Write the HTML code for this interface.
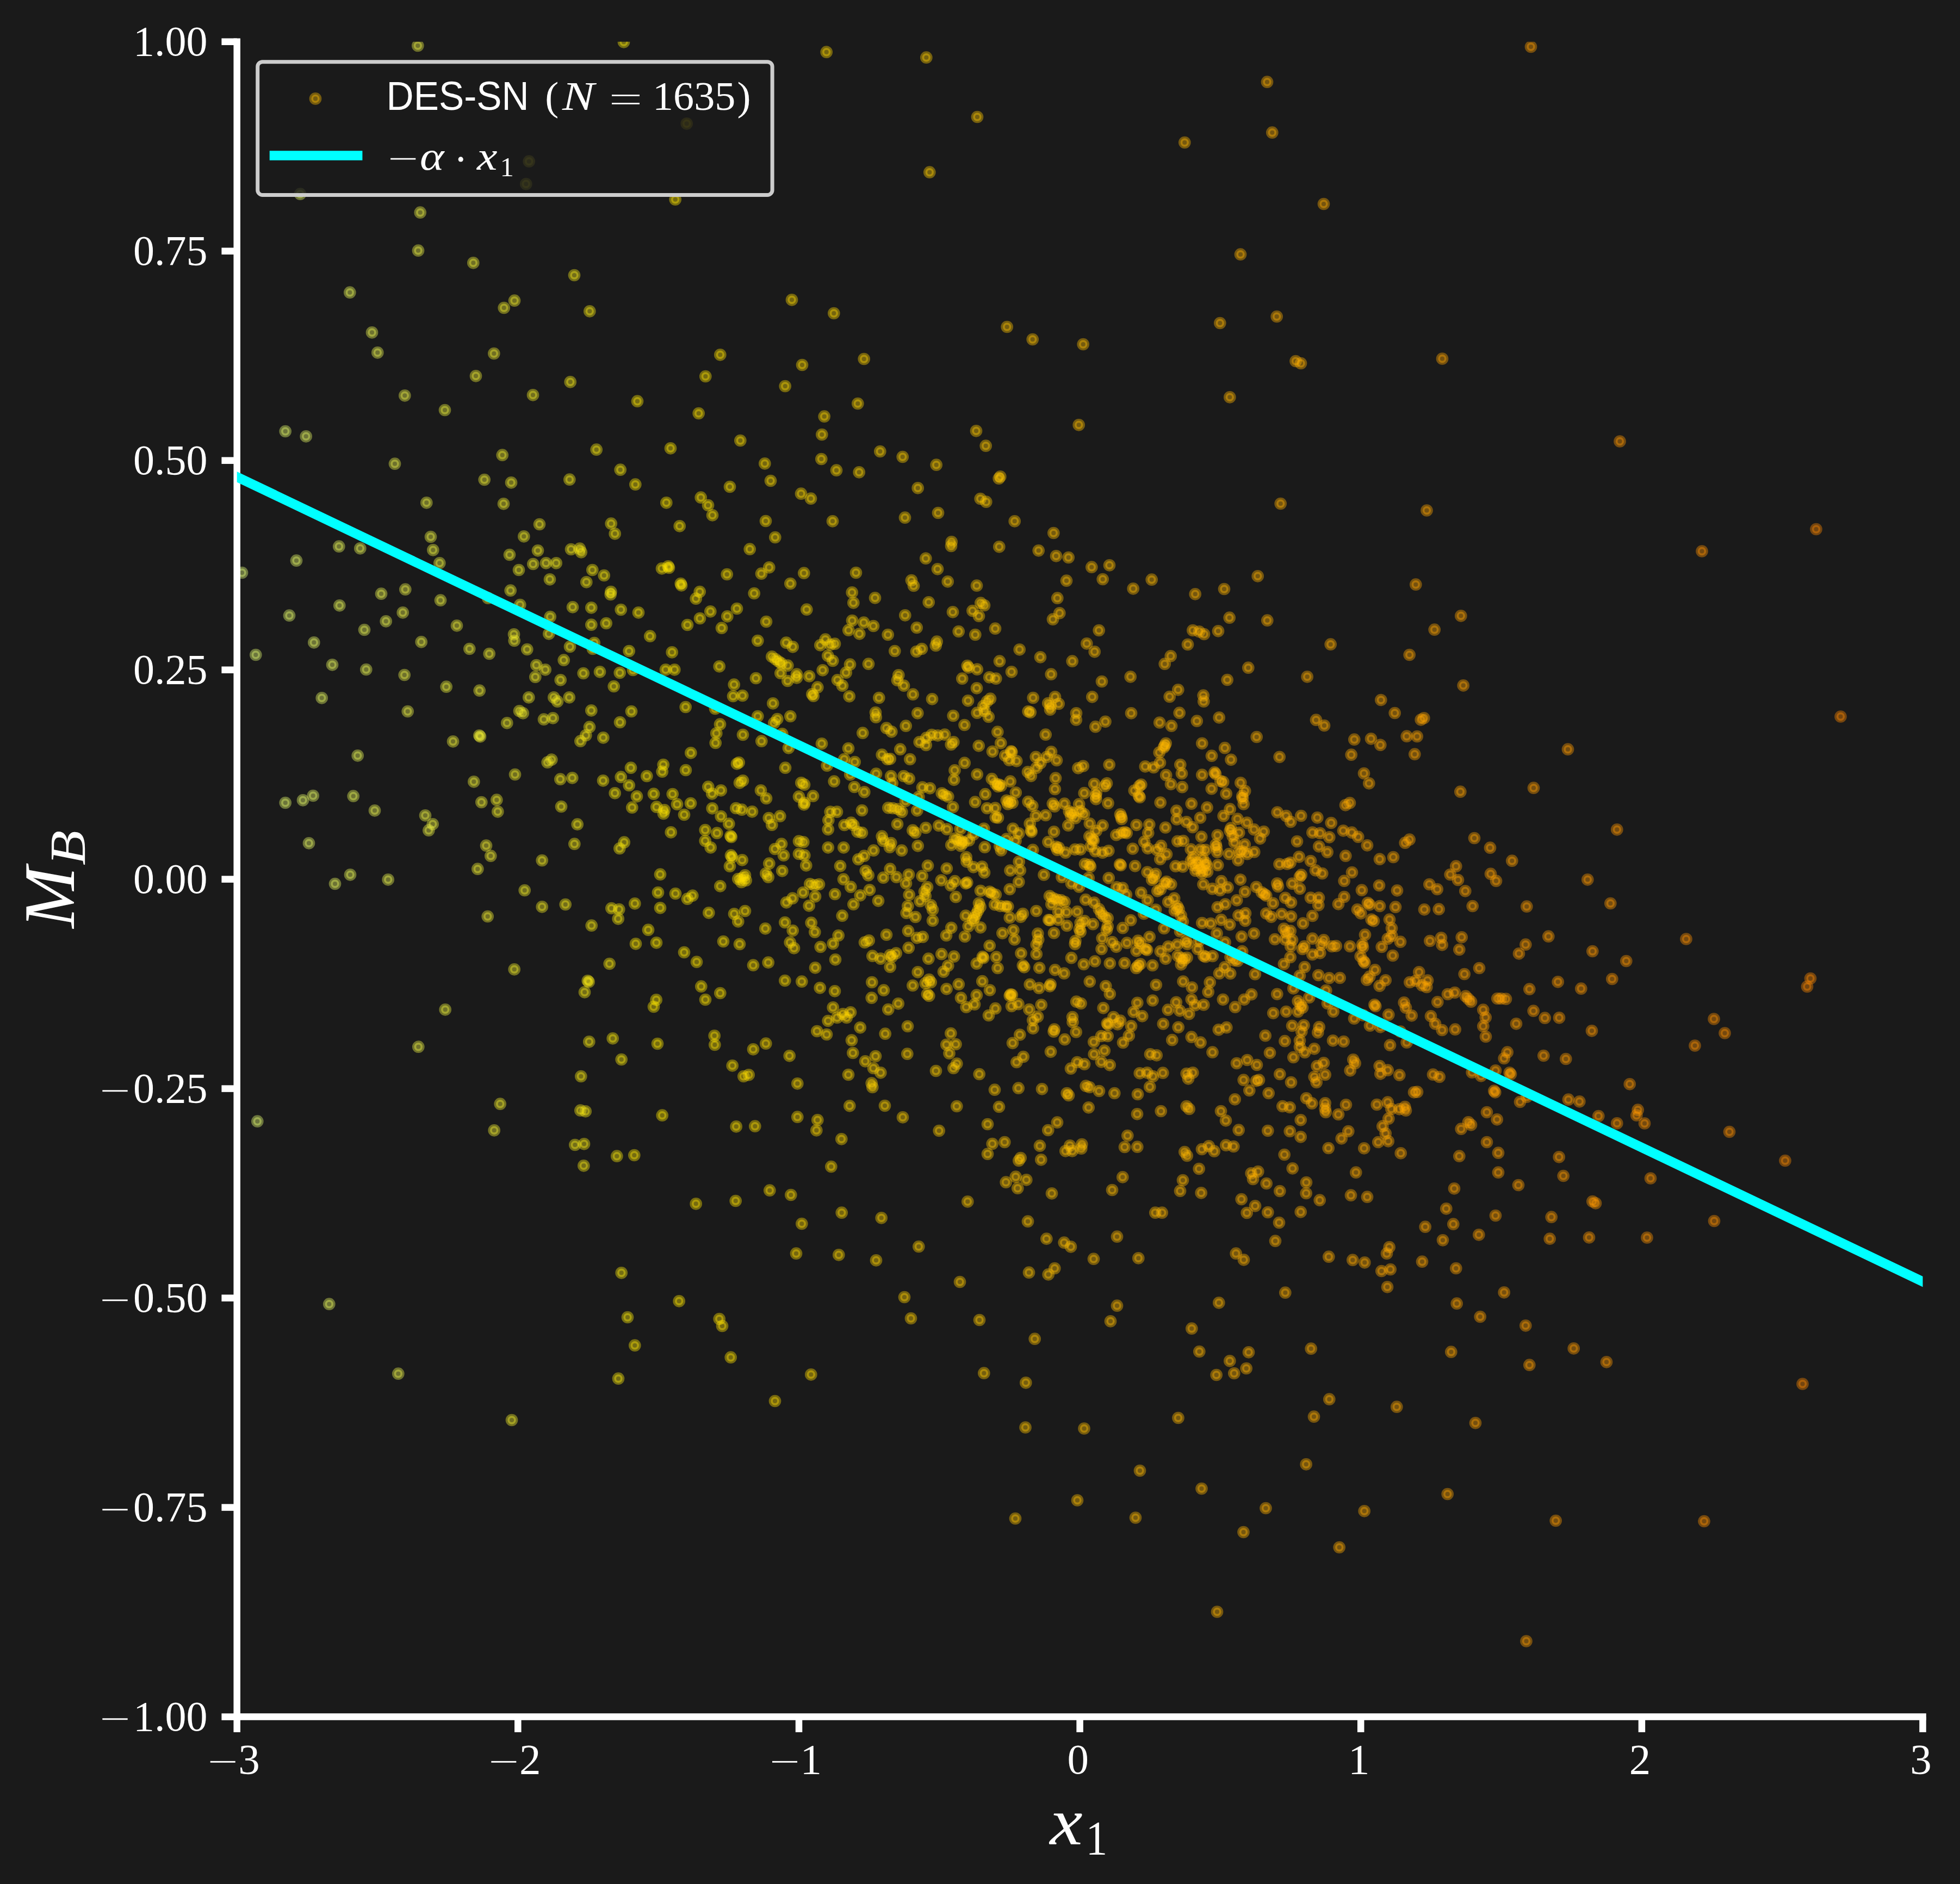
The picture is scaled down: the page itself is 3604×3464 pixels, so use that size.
<!DOCTYPE html>
<html><head><meta charset="utf-8"><title>DES-SN x1 vs MB</title>
<style>
html,body{margin:0;padding:0;background:#1a1a1a;}
body{width:3604px;height:3464px;overflow:hidden;}
svg{display:block;}
text{fill:#fff;font-family:"Liberation Serif",serif;}
.sans{font-family:"Liberation Sans",sans-serif;}
.it{font-style:italic;}
.p circle{fill:currentColor;stroke:currentColor;fill-opacity:.4;stroke-opacity:.4;stroke-width:7.3;}
</style></head><body>
<svg width="3604" height="3464" viewBox="0 0 3604 3464">
<rect x="0" y="0" width="3604" height="3464" fill="#1a1a1a"/>
<defs><clipPath id="ax"><rect x="435.7" y="76.7" width="3099.8" height="3079.9"/></clipPath></defs>
<g class="p" clip-path="url(#ax)">
<g style="color:#e4ff7a"><circle cx="445" cy="1053" r="7.7"/></g>
<g style="color:#e5fe74"><circle cx="470.3" cy="1204" r="7.7"/><circle cx="473.3" cy="2061.7" r="7.7"/></g>
<g style="color:#e7fc6b"><circle cx="524.7" cy="793" r="7.7"/><circle cx="532" cy="1131.7" r="7.7"/><circle cx="524.7" cy="1476" r="7.7"/></g>
<g style="color:#e8fc68"><circle cx="552" cy="356.7" r="7.7"/><circle cx="545" cy="1030.7" r="7.7"/><circle cx="557" cy="1471.3" r="7.7"/></g>
<g style="color:#e9fb65"><circle cx="562.7" cy="802.3" r="7.7"/><circle cx="577.3" cy="1181.3" r="7.7"/><circle cx="575.7" cy="1463" r="7.7"/><circle cx="568" cy="1550.3" r="7.7"/></g>
<g style="color:#e9fa62"><circle cx="591.7" cy="1283.3" r="7.7"/></g>
<g style="color:#eafa5e"><circle cx="611" cy="1222.3" r="7.7"/><circle cx="616" cy="1625" r="7.7"/><circle cx="605.3" cy="2397.7" r="7.7"/></g>
<g style="color:#ebf95b"><circle cx="623.3" cy="1004.7" r="7.7"/><circle cx="624.3" cy="1113.3" r="7.7"/></g>
<g style="color:#ebf958"><circle cx="643.3" cy="537.7" r="7.7"/><circle cx="657.7" cy="1389.3" r="7.7"/><circle cx="649.7" cy="1463.7" r="7.7"/><circle cx="644" cy="1608.3" r="7.7"/></g>
<g style="color:#ecf855"><circle cx="662.3" cy="1008.3" r="7.7"/><circle cx="670" cy="1158" r="7.7"/><circle cx="673.3" cy="1231" r="7.7"/></g>
<g style="color:#edf852"><circle cx="684" cy="611.3" r="7.7"/><circle cx="694.3" cy="648.3" r="7.7"/><circle cx="689" cy="1490.3" r="7.7"/></g>
<g style="color:#edf74f"><circle cx="701" cy="1091.7" r="7.7"/><circle cx="709.7" cy="1142.3" r="7.7"/><circle cx="713.7" cy="1617.3" r="7.7"/></g>
<g style="color:#eef64c"><circle cx="726" cy="852.7" r="7.7"/><circle cx="732.3" cy="2525.7" r="7.7"/></g>
<g style="color:#eff649"><circle cx="744.3" cy="727.3" r="7.7"/><circle cx="745.3" cy="1083.7" r="7.7"/><circle cx="740.7" cy="1126.3" r="7.7"/><circle cx="743.7" cy="1241" r="7.7"/><circle cx="749.7" cy="1308" r="7.7"/></g>
<g style="color:#eff546"><circle cx="768.3" cy="84" r="7.7"/><circle cx="772.7" cy="390.7" r="7.7"/><circle cx="769" cy="460.7" r="7.7"/><circle cx="774.7" cy="1180.3" r="7.7"/><circle cx="769.3" cy="1924.7" r="7.7"/></g>
<g style="color:#f0f543"><circle cx="784.3" cy="924.3" r="7.7"/><circle cx="792" cy="987" r="7.7"/><circle cx="782" cy="1499.3" r="7.7"/><circle cx="788.3" cy="1526.7" r="7.7"/></g>
<g style="color:#f1f440"><circle cx="796.3" cy="1011.3" r="7.7"/><circle cx="808.3" cy="1035.3" r="7.7"/><circle cx="810" cy="1103.7" r="7.7"/><circle cx="795.7" cy="1515.3" r="7.7"/></g>
<g style="color:#f1f43d"><circle cx="818" cy="754" r="7.7"/><circle cx="820.7" cy="1262.7" r="7.7"/><circle cx="818.7" cy="1856.3" r="7.7"/></g>
<g style="color:#f2f33a"><circle cx="840" cy="1150.3" r="7.7"/><circle cx="833" cy="1363.3" r="7.7"/></g>
<g style="color:#f3f237"><circle cx="870.3" cy="483.3" r="7.7"/><circle cx="863.3" cy="1193" r="7.7"/><circle cx="871.3" cy="1437.3" r="7.7"/></g>
<g style="color:#f4f234"><circle cx="875" cy="691.3" r="7.7"/><circle cx="890.7" cy="882" r="7.7"/><circle cx="881.7" cy="1269.7" r="7.7"/><circle cx="881.3" cy="1352.3" r="7.7"/><circle cx="883" cy="1354.3" r="7.7"/><circle cx="885.3" cy="1475" r="7.7"/><circle cx="878.3" cy="1597.7" r="7.7"/></g>
<g style="color:#f4f131"><circle cx="908.3" cy="650" r="7.7"/><circle cx="897.3" cy="1099.7" r="7.7"/><circle cx="899.7" cy="1202" r="7.7"/><circle cx="894" cy="1554.7" r="7.7"/><circle cx="902.3" cy="1573.7" r="7.7"/><circle cx="896.7" cy="1685" r="7.7"/><circle cx="908.7" cy="2078.3" r="7.7"/></g>
<g style="color:#f5f12e"><circle cx="926.7" cy="566" r="7.7"/><circle cx="923.7" cy="836.7" r="7.7"/><circle cx="926" cy="926.3" r="7.7"/><circle cx="913.3" cy="1470.7" r="7.7"/><circle cx="915.3" cy="1492.3" r="7.7"/><circle cx="919.7" cy="2029.7" r="7.7"/></g>
<g style="color:#f6f02b"><circle cx="946" cy="552.7" r="7.7"/><circle cx="940" cy="887.3" r="7.7"/><circle cx="937" cy="1020" r="7.7"/><circle cx="938.7" cy="1085.7" r="7.7"/><circle cx="945" cy="1166.3" r="7.7"/><circle cx="945.7" cy="1178" r="7.7"/><circle cx="932.3" cy="1329.3" r="7.7"/><circle cx="947" cy="1424" r="7.7"/><circle cx="945.7" cy="1782.3" r="7.7"/><circle cx="941" cy="2611" r="7.7"/></g>
<g style="color:#f6f028"><circle cx="967.3" cy="338.3" r="7.7"/><circle cx="963.3" cy="986.3" r="7.7"/><circle cx="954" cy="1048" r="7.7"/><circle cx="956.3" cy="1112" r="7.7"/><circle cx="955" cy="1307.3" r="7.7"/><circle cx="961.7" cy="1311.3" r="7.7"/><circle cx="964.7" cy="1637" r="7.7"/></g>
<g style="color:#f7ef25"><circle cx="972.7" cy="296.7" r="7.7"/><circle cx="980" cy="726.3" r="7.7"/><circle cx="980.3" cy="1037" r="7.7"/><circle cx="969.3" cy="1194" r="7.7"/><circle cx="986.3" cy="1223" r="7.7"/><circle cx="984.3" cy="1244.7" r="7.7"/><circle cx="972.3" cy="1282.3" r="7.7"/></g>
<g style="color:#f8ee22"><circle cx="992" cy="964" r="7.7"/><circle cx="989" cy="1012.3" r="7.7"/><circle cx="1004" cy="1035.3" r="7.7"/><circle cx="1002.7" cy="1231.3" r="7.7"/><circle cx="1000" cy="1322.7" r="7.7"/><circle cx="1006.7" cy="1401.7" r="7.7"/><circle cx="996.7" cy="1582" r="7.7"/><circle cx="996.7" cy="1667.3" r="7.7"/></g>
<g style="color:#f8ee1e"><circle cx="1022.7" cy="1035.3" r="7.7"/><circle cx="1011" cy="1065.3" r="7.7"/><circle cx="1011.7" cy="1134" r="7.7"/><circle cx="1009.3" cy="1165.3" r="7.7"/><circle cx="1018.3" cy="1282.3" r="7.7"/><circle cx="1025" cy="1289.7" r="7.7"/><circle cx="1016.7" cy="1320.3" r="7.7"/><circle cx="1014.3" cy="1396.7" r="7.7"/></g>
<g style="color:#f9ed1b"><circle cx="1036.7" cy="1213.7" r="7.7"/><circle cx="1030.7" cy="1250.3" r="7.7"/><circle cx="1030.3" cy="1432.7" r="7.7"/><circle cx="1032" cy="1483" r="7.7"/><circle cx="1039.7" cy="1663" r="7.7"/></g>
<g style="color:#faed18"><circle cx="1056" cy="506" r="7.7"/><circle cx="1048.7" cy="702.3" r="7.7"/><circle cx="1047.3" cy="881.7" r="7.7"/><circle cx="1050" cy="1010" r="7.7"/><circle cx="1053" cy="1116.3" r="7.7"/><circle cx="1048" cy="1189" r="7.7"/><circle cx="1046.7" cy="1282.3" r="7.7"/><circle cx="1052.3" cy="1430.3" r="7.7"/><circle cx="1061.7" cy="1515.7" r="7.7"/><circle cx="1056.3" cy="1551.7" r="7.7"/><circle cx="1057.3" cy="2105" r="7.7"/></g>
<g style="color:#faec15"><circle cx="1066" cy="1008.7" r="7.7"/><circle cx="1068.7" cy="1015.3" r="7.7"/><circle cx="1067.3" cy="1362.7" r="7.7"/><circle cx="1068.3" cy="1979" r="7.7"/><circle cx="1067.3" cy="2041.7" r="7.7"/><circle cx="1084.3" cy="572.3" r="7.7"/><circle cx="1078.3" cy="1070.3" r="7.7"/><circle cx="1072.7" cy="1238" r="7.7"/><circle cx="1084" cy="1336.7" r="7.7"/><circle cx="1077.3" cy="1352" r="7.7"/><circle cx="1080.7" cy="1803.3" r="7.7"/><circle cx="1082.7" cy="1805.3" r="7.7"/><circle cx="1075" cy="1824.3" r="7.7"/><circle cx="1083.3" cy="1915.3" r="7.7"/><circle cx="1076.7" cy="2043.3" r="7.7"/><circle cx="1074" cy="2103.3" r="7.7"/><circle cx="1073.3" cy="2143.3" r="7.7"/></g>
<g style="color:#fbeb12"><circle cx="1096.7" cy="826.7" r="7.7"/><circle cx="1089.3" cy="1048" r="7.7"/><circle cx="1087.3" cy="1117.3" r="7.7"/><circle cx="1087.3" cy="1148.7" r="7.7"/><circle cx="1092.7" cy="1182" r="7.7"/><circle cx="1090" cy="1193" r="7.7"/><circle cx="1103" cy="1235.3" r="7.7"/><circle cx="1087.3" cy="1306.3" r="7.7"/><circle cx="1087.7" cy="1701.7" r="7.7"/></g>
<g style="color:#fceb0f"><circle cx="1110.7" cy="1058" r="7.7"/><circle cx="1123.3" cy="1088" r="7.7"/><circle cx="1122.7" cy="1093" r="7.7"/><circle cx="1114.7" cy="1146" r="7.7"/><circle cx="1109.3" cy="1356.3" r="7.7"/><circle cx="1109" cy="1435.3" r="7.7"/><circle cx="1120.7" cy="1772" r="7.7"/></g>
<g style="color:#fcea0c"><circle cx="1140.7" cy="863.7" r="7.7"/><circle cx="1123.7" cy="962.7" r="7.7"/><circle cx="1130.7" cy="981.3" r="7.7"/><circle cx="1141.7" cy="1121" r="7.7"/><circle cx="1139.7" cy="1237" r="7.7"/><circle cx="1128.7" cy="1262" r="7.7"/><circle cx="1140" cy="1328" r="7.7"/><circle cx="1141.7" cy="1428.7" r="7.7"/><circle cx="1130.7" cy="1458.3" r="7.7"/><circle cx="1139.3" cy="1560" r="7.7"/><circle cx="1124.3" cy="1670" r="7.7"/><circle cx="1138.3" cy="1672" r="7.7"/><circle cx="1136.7" cy="1689.3" r="7.7"/><circle cx="1126.7" cy="1909.3" r="7.7"/><circle cx="1142.7" cy="1948" r="7.7"/><circle cx="1134.3" cy="2125.7" r="7.7"/><circle cx="1142.7" cy="2340.3" r="7.7"/><circle cx="1137" cy="2534.7" r="7.7"/></g>
<g style="color:#fdea09"><circle cx="1147" cy="77.3" r="7.7"/><circle cx="1156.7" cy="1197" r="7.7"/><circle cx="1161" cy="1308" r="7.7"/><circle cx="1160" cy="1411.7" r="7.7"/><circle cx="1156.7" cy="1444" r="7.7"/><circle cx="1147.7" cy="1548.7" r="7.7"/><circle cx="1154" cy="2422" r="7.7"/></g>
<g style="color:#fee906"><circle cx="1172" cy="737.7" r="7.7"/><circle cx="1168.3" cy="890.7" r="7.7"/><circle cx="1174" cy="1126.3" r="7.7"/><circle cx="1164" cy="1232" r="7.7"/><circle cx="1171" cy="1464.3" r="7.7"/><circle cx="1162.3" cy="1484.7" r="7.7"/><circle cx="1167.3" cy="1661.3" r="7.7"/><circle cx="1169" cy="1735.3" r="7.7"/><circle cx="1166.3" cy="2124" r="7.7"/><circle cx="1167.3" cy="2473.7" r="7.7"/></g>
<g style="color:#fee903"><circle cx="1195.3" cy="1169.7" r="7.7"/><circle cx="1189.3" cy="1427" r="7.7"/><circle cx="1192" cy="1709.7" r="7.7"/></g>
<g style="color:#ffe800"><circle cx="1217" cy="1045.3" r="7.7"/><circle cx="1219.7" cy="1406" r="7.7"/><circle cx="1217.7" cy="1418.7" r="7.7"/><circle cx="1202" cy="1459.7" r="7.7"/><circle cx="1207.3" cy="1483.7" r="7.7"/><circle cx="1220" cy="1496" r="7.7"/><circle cx="1214" cy="1607.7" r="7.7"/><circle cx="1210" cy="1641" r="7.7"/><circle cx="1214" cy="1669.3" r="7.7"/><circle cx="1207" cy="1733.3" r="7.7"/><circle cx="1206.7" cy="1838.3" r="7.7"/><circle cx="1202" cy="1851" r="7.7"/><circle cx="1209" cy="1919" r="7.7"/><circle cx="1217.7" cy="2050.7" r="7.7"/></g>
<g style="color:#ffe700"><circle cx="1233" cy="824.3" r="7.7"/><circle cx="1225.3" cy="924.3" r="7.7"/><circle cx="1228.7" cy="1041.3" r="7.7"/><circle cx="1230" cy="1044" r="7.7"/><circle cx="1235.7" cy="1199.3" r="7.7"/><circle cx="1224" cy="1231.3" r="7.7"/><circle cx="1236.7" cy="1460" r="7.7"/><circle cx="1221.7" cy="1489.3" r="7.7"/><circle cx="1233.7" cy="1530.3" r="7.7"/></g>
<g style="color:#ffe600"><circle cx="1241.7" cy="366.7" r="7.7"/><circle cx="1249.7" cy="967.3" r="7.7"/><circle cx="1251.7" cy="1073" r="7.7"/><circle cx="1253" cy="1076.3" r="7.7"/><circle cx="1240.3" cy="1231.3" r="7.7"/><circle cx="1245" cy="1478.7" r="7.7"/><circle cx="1258" cy="1498" r="7.7"/><circle cx="1242" cy="1643" r="7.7"/><circle cx="1258" cy="1751" r="7.7"/><circle cx="1248.7" cy="2392.3" r="7.7"/></g>
<g style="color:#ffe500"><circle cx="1262.7" cy="227.3" r="7.7"/><circle cx="1264" cy="1149" r="7.7"/><circle cx="1260.7" cy="1300" r="7.7"/><circle cx="1270.3" cy="1384.3" r="7.7"/><circle cx="1261" cy="1416" r="7.7"/><circle cx="1270" cy="1477" r="7.7"/><circle cx="1273.3" cy="1646.7" r="7.7"/><circle cx="1264" cy="1652.7" r="7.7"/></g>
<g style="color:#ffe400"><circle cx="1297.3" cy="692" r="7.7"/><circle cx="1284.7" cy="760" r="7.7"/><circle cx="1288.7" cy="914.7" r="7.7"/><circle cx="1286.7" cy="1088" r="7.7"/><circle cx="1279.7" cy="1100.7" r="7.7"/><circle cx="1287" cy="1137" r="7.7"/><circle cx="1296.7" cy="1526" r="7.7"/><circle cx="1296.7" cy="1546" r="7.7"/><circle cx="1281" cy="1768.7" r="7.7"/><circle cx="1289.3" cy="1813.7" r="7.7"/><circle cx="1297" cy="1838" r="7.7"/><circle cx="1279.7" cy="2213.3" r="7.7"/></g>
<g style="color:#ffe300"><circle cx="1302" cy="929" r="7.7"/><circle cx="1310" cy="947.3" r="7.7"/><circle cx="1306.3" cy="1124.3" r="7.7"/><circle cx="1315" cy="1303" r="7.7"/><circle cx="1315.7" cy="1366" r="7.7"/><circle cx="1302.3" cy="1446.7" r="7.7"/><circle cx="1309.3" cy="1459.3" r="7.7"/><circle cx="1309.7" cy="1486.3" r="7.7"/><circle cx="1306.7" cy="1558.3" r="7.7"/><circle cx="1303.3" cy="1678.3" r="7.7"/><circle cx="1313.7" cy="1904.3" r="7.7"/><circle cx="1314.3" cy="1921" r="7.7"/></g>
<g style="color:#ffe200"><circle cx="1324.3" cy="652.3" r="7.7"/><circle cx="1327" cy="1154.7" r="7.7"/><circle cx="1322.7" cy="1225.3" r="7.7"/><circle cx="1324" cy="1331.7" r="7.7"/><circle cx="1317.3" cy="1348.3" r="7.7"/><circle cx="1325.7" cy="1453.3" r="7.7"/><circle cx="1325.7" cy="1501" r="7.7"/><circle cx="1318.3" cy="1531.7" r="7.7"/><circle cx="1324.3" cy="1629.3" r="7.7"/><circle cx="1330" cy="1731" r="7.7"/><circle cx="1324.3" cy="1826" r="7.7"/><circle cx="1322.7" cy="2425" r="7.7"/><circle cx="1328" cy="2438" r="7.7"/></g>
<g style="color:#ffe100"><circle cx="1342" cy="895" r="7.7"/><circle cx="1336.7" cy="1056" r="7.7"/><circle cx="1355" cy="1119" r="7.7"/><circle cx="1337.3" cy="1133.3" r="7.7"/><circle cx="1349.7" cy="1258.7" r="7.7"/><circle cx="1348" cy="1280" r="7.7"/><circle cx="1355" cy="1404.3" r="7.7"/><circle cx="1353.3" cy="1486" r="7.7"/><circle cx="1340.3" cy="1514.7" r="7.7"/><circle cx="1343.3" cy="1537" r="7.7"/><circle cx="1344.7" cy="1539" r="7.7"/><circle cx="1344" cy="1572.7" r="7.7"/><circle cx="1346" cy="1576" r="7.7"/><circle cx="1342" cy="1592.7" r="7.7"/><circle cx="1350" cy="1680.3" r="7.7"/><circle cx="1346.7" cy="1959.3" r="7.7"/><circle cx="1353.7" cy="2071.3" r="7.7"/><circle cx="1352.7" cy="2208" r="7.7"/><circle cx="1343.7" cy="2495.7" r="7.7"/></g>
<g style="color:#ffdf00"><circle cx="1361.3" cy="810" r="7.7"/><circle cx="1365.3" cy="1279" r="7.7"/><circle cx="1366" cy="1351" r="7.7"/><circle cx="1358.7" cy="1402" r="7.7"/><circle cx="1366" cy="1435.3" r="7.7"/><circle cx="1360" cy="1439.3" r="7.7"/><circle cx="1364" cy="1488.7" r="7.7"/><circle cx="1364.7" cy="1581.3" r="7.7"/><circle cx="1370" cy="1609.3" r="7.7"/><circle cx="1357.3" cy="1616" r="7.7"/><circle cx="1363.3" cy="1622" r="7.7"/><circle cx="1371.7" cy="1618.7" r="7.7"/><circle cx="1365" cy="1614.3" r="7.7"/><circle cx="1370" cy="1675" r="7.7"/><circle cx="1357.3" cy="1694.3" r="7.7"/><circle cx="1360" cy="1736" r="7.7"/><circle cx="1367.3" cy="1979" r="7.7"/></g>
<g style="color:#ffde00"><circle cx="1378.7" cy="1009.7" r="7.7"/><circle cx="1386.7" cy="1091" r="7.7"/><circle cx="1393.3" cy="1178" r="7.7"/><circle cx="1390" cy="1247" r="7.7"/><circle cx="1393.3" cy="1317" r="7.7"/><circle cx="1383" cy="1492.3" r="7.7"/><circle cx="1385" cy="1774.7" r="7.7"/><circle cx="1385" cy="1929.3" r="7.7"/><circle cx="1376.7" cy="1976.3" r="7.7"/><circle cx="1388.3" cy="2070.7" r="7.7"/></g>
<g style="color:#ffdd00"><circle cx="1406.3" cy="852.3" r="7.7"/><circle cx="1408" cy="958" r="7.7"/><circle cx="1400" cy="1054.7" r="7.7"/><circle cx="1409" cy="1143" r="7.7"/><circle cx="1400.3" cy="1362.7" r="7.7"/><circle cx="1399" cy="1453.3" r="7.7"/><circle cx="1409" cy="1468" r="7.7"/><circle cx="1413.7" cy="1504" r="7.7"/><circle cx="1408.3" cy="1606" r="7.7"/><circle cx="1412.7" cy="1612.7" r="7.7"/><circle cx="1407.3" cy="1707.3" r="7.7"/><circle cx="1412.7" cy="1769.7" r="7.7"/><circle cx="1408.3" cy="1918.7" r="7.7"/></g>
<g style="color:#ffdc00"><circle cx="1417" cy="884" r="7.7"/><circle cx="1425.3" cy="988" r="7.7"/><circle cx="1414.3" cy="1043.3" r="7.7"/><circle cx="1419.3" cy="1207.3" r="7.7"/><circle cx="1426" cy="1212" r="7.7"/><circle cx="1431.7" cy="1216.3" r="7.7"/><circle cx="1421.3" cy="1293.3" r="7.7"/><circle cx="1429.3" cy="1322" r="7.7"/><circle cx="1423.3" cy="1329.3" r="7.7"/><circle cx="1419.3" cy="1516.7" r="7.7"/><circle cx="1425" cy="1561" r="7.7"/><circle cx="1414.3" cy="1587.7" r="7.7"/><circle cx="1415.3" cy="2188.7" r="7.7"/><circle cx="1425" cy="2576" r="7.7"/></g>
<g style="color:#ffdb00"><circle cx="1443.7" cy="710" r="7.7"/><circle cx="1445.7" cy="1181.7" r="7.7"/><circle cx="1436.7" cy="1219.7" r="7.7"/><circle cx="1448.3" cy="1223.7" r="7.7"/><circle cx="1435.3" cy="1237.7" r="7.7"/><circle cx="1448.3" cy="1252" r="7.7"/><circle cx="1438.3" cy="1349.3" r="7.7"/><circle cx="1450" cy="1375.3" r="7.7"/><circle cx="1444" cy="1411.7" r="7.7"/><circle cx="1434.3" cy="1500.7" r="7.7"/><circle cx="1437" cy="1551.7" r="7.7"/><circle cx="1441" cy="1572.7" r="7.7"/><circle cx="1438.3" cy="1601.3" r="7.7"/><circle cx="1446" cy="1659.3" r="7.7"/><circle cx="1443.3" cy="1696" r="7.7"/><circle cx="1452.7" cy="1732.7" r="7.7"/><circle cx="1443.3" cy="1803" r="7.7"/><circle cx="1451.7" cy="1941.3" r="7.7"/></g>
<g style="color:#ffda00"><circle cx="1456" cy="551.3" r="7.7"/><circle cx="1453.3" cy="1073" r="7.7"/><circle cx="1457.7" cy="1189.3" r="7.7"/><circle cx="1465" cy="1239.7" r="7.7"/><circle cx="1465" cy="1246.3" r="7.7"/><circle cx="1453.3" cy="1317" r="7.7"/><circle cx="1469" cy="1464.7" r="7.7"/><circle cx="1469" cy="1546.7" r="7.7"/><circle cx="1469" cy="1570" r="7.7"/><circle cx="1457.3" cy="1651.7" r="7.7"/><circle cx="1457.7" cy="1711" r="7.7"/><circle cx="1460" cy="1743.3" r="7.7"/><circle cx="1466.3" cy="1992.3" r="7.7"/><circle cx="1466.3" cy="2053.7" r="7.7"/><circle cx="1454.3" cy="2197" r="7.7"/><circle cx="1464" cy="2304.7" r="7.7"/></g>
<g style="color:#ffd900"><circle cx="1475" cy="671" r="7.7"/><circle cx="1473" cy="907.7" r="7.7"/><circle cx="1491" cy="916.7" r="7.7"/><circle cx="1478.3" cy="1053.7" r="7.7"/><circle cx="1483.3" cy="1120.7" r="7.7"/><circle cx="1488" cy="1243.3" r="7.7"/><circle cx="1473.3" cy="1439.3" r="7.7"/><circle cx="1479" cy="1442.7" r="7.7"/><circle cx="1479.3" cy="1476" r="7.7"/><circle cx="1478.3" cy="1479.3" r="7.7"/><circle cx="1477.3" cy="1548.3" r="7.7"/><circle cx="1479.3" cy="1572.7" r="7.7"/><circle cx="1482.3" cy="1591.3" r="7.7"/><circle cx="1489.3" cy="1625.3" r="7.7"/><circle cx="1476.7" cy="1641" r="7.7"/><circle cx="1487.7" cy="1665.3" r="7.7"/><circle cx="1474.3" cy="1804.7" r="7.7"/><circle cx="1474.3" cy="2250" r="7.7"/><circle cx="1491.3" cy="2527.3" r="7.7"/></g>
<g style="color:#ffd800"><circle cx="1510.3" cy="844" r="7.7"/><circle cx="1508.3" cy="1186.3" r="7.7"/><circle cx="1503.3" cy="1263.7" r="7.7"/><circle cx="1493.3" cy="1276.3" r="7.7"/><circle cx="1495.7" cy="1279.7" r="7.7"/><circle cx="1495" cy="1463.7" r="7.7"/><circle cx="1497.7" cy="1627.7" r="7.7"/><circle cx="1506" cy="1626" r="7.7"/><circle cx="1499" cy="1648.3" r="7.7"/><circle cx="1491.7" cy="1696.7" r="7.7"/><circle cx="1498.3" cy="1713.7" r="7.7"/><circle cx="1508.7" cy="1741" r="7.7"/><circle cx="1499" cy="1779.3" r="7.7"/><circle cx="1507.7" cy="1816.3" r="7.7"/><circle cx="1502.3" cy="1896" r="7.7"/><circle cx="1503.3" cy="2059.3" r="7.7"/><circle cx="1501.3" cy="2078.3" r="7.7"/></g>
<g style="color:#ffd700"><circle cx="1519.7" cy="95.7" r="7.7"/><circle cx="1515.7" cy="765.7" r="7.7"/><circle cx="1511.3" cy="799" r="7.7"/><circle cx="1517.7" cy="1175.7" r="7.7"/><circle cx="1526.7" cy="1185.3" r="7.7"/><circle cx="1522.3" cy="1205.7" r="7.7"/><circle cx="1512.7" cy="1232.3" r="7.7"/><circle cx="1511" cy="1367.3" r="7.7"/><circle cx="1520.7" cy="1407.7" r="7.7"/><circle cx="1526.7" cy="1492.7" r="7.7"/><circle cx="1523.3" cy="1508" r="7.7"/><circle cx="1522.7" cy="1525" r="7.7"/><circle cx="1522.7" cy="1558.3" r="7.7"/><circle cx="1522.7" cy="1877" r="7.7"/><circle cx="1520" cy="1902" r="7.7"/><circle cx="1528.3" cy="2145" r="7.7"/></g>
<g style="color:#ffd600"><circle cx="1533.3" cy="576" r="7.7"/><circle cx="1538" cy="864.7" r="7.7"/><circle cx="1531" cy="958.3" r="7.7"/><circle cx="1535" cy="1183.7" r="7.7"/><circle cx="1531.3" cy="1215" r="7.7"/><circle cx="1540" cy="1250.3" r="7.7"/><circle cx="1549" cy="1260.7" r="7.7"/><circle cx="1533.7" cy="1436.7" r="7.7"/><circle cx="1539" cy="1492.7" r="7.7"/><circle cx="1545" cy="1592.3" r="7.7"/><circle cx="1535.3" cy="1644" r="7.7"/><circle cx="1548.7" cy="1683.7" r="7.7"/><circle cx="1541.7" cy="1720" r="7.7"/><circle cx="1531.7" cy="1735" r="7.7"/><circle cx="1536" cy="1764.3" r="7.7"/><circle cx="1535" cy="1822.3" r="7.7"/><circle cx="1531.7" cy="1852.3" r="7.7"/><circle cx="1539.3" cy="1871" r="7.7"/><circle cx="1547.3" cy="2094.3" r="7.7"/><circle cx="1547.7" cy="2229.7" r="7.7"/><circle cx="1542.3" cy="2307.3" r="7.7"/></g>
<g style="color:#ffd500"><circle cx="1566.7" cy="1089.3" r="7.7"/><circle cx="1567" cy="1141" r="7.7"/><circle cx="1560.3" cy="1158.7" r="7.7"/><circle cx="1563" cy="1221.7" r="7.7"/><circle cx="1555.7" cy="1236.7" r="7.7"/><circle cx="1561.7" cy="1280.3" r="7.7"/><circle cx="1560" cy="1376" r="7.7"/><circle cx="1552.3" cy="1396" r="7.7"/><circle cx="1563.3" cy="1424.3" r="7.7"/><circle cx="1552.7" cy="1517" r="7.7"/><circle cx="1565" cy="1512.7" r="7.7"/><circle cx="1551.3" cy="1558.3" r="7.7"/><circle cx="1551" cy="1616.7" r="7.7"/><circle cx="1564.3" cy="1630.7" r="7.7"/><circle cx="1564" cy="1861.3" r="7.7"/><circle cx="1550" cy="1864.3" r="7.7"/><circle cx="1556.7" cy="1871" r="7.7"/><circle cx="1566" cy="1912.7" r="7.7"/><circle cx="1568.3" cy="1936" r="7.7"/><circle cx="1560" cy="1976" r="7.7"/><circle cx="1562.3" cy="2033.3" r="7.7"/></g>
<g style="color:#ffd400"><circle cx="1577.3" cy="742" r="7.7"/><circle cx="1579.7" cy="868.3" r="7.7"/><circle cx="1574" cy="1053" r="7.7"/><circle cx="1569.3" cy="1108.3" r="7.7"/><circle cx="1588.3" cy="1144.7" r="7.7"/><circle cx="1580.3" cy="1165.3" r="7.7"/><circle cx="1586.3" cy="1347.7" r="7.7"/><circle cx="1571.7" cy="1401" r="7.7"/><circle cx="1571" cy="1447" r="7.7"/><circle cx="1585" cy="1490" r="7.7"/><circle cx="1569.3" cy="1517" r="7.7"/><circle cx="1576.7" cy="1529.3" r="7.7"/><circle cx="1585" cy="1531" r="7.7"/><circle cx="1578.3" cy="1580" r="7.7"/><circle cx="1581.7" cy="1646.3" r="7.7"/><circle cx="1569.3" cy="1662.7" r="7.7"/><circle cx="1581.7" cy="1889.3" r="7.7"/></g>
<g style="color:#ffd300"><circle cx="1588.7" cy="660" r="7.7"/><circle cx="1606" cy="1151" r="7.7"/><circle cx="1597" cy="1220.7" r="7.7"/><circle cx="1589.3" cy="1456.3" r="7.7"/><circle cx="1606.3" cy="1563.7" r="7.7"/><circle cx="1589" cy="1573.7" r="7.7"/><circle cx="1591.7" cy="1601" r="7.7"/><circle cx="1596.7" cy="1609.3" r="7.7"/><circle cx="1599" cy="1636.3" r="7.7"/><circle cx="1597.7" cy="1729.3" r="7.7"/><circle cx="1590" cy="1732.7" r="7.7"/><circle cx="1604.3" cy="1757.7" r="7.7"/><circle cx="1603.3" cy="1806" r="7.7"/><circle cx="1602.7" cy="1834.7" r="7.7"/><circle cx="1591" cy="1951.3" r="7.7"/><circle cx="1606" cy="1964" r="7.7"/><circle cx="1602.7" cy="1991.7" r="7.7"/><circle cx="1604.3" cy="1999" r="7.7"/></g>
<g style="color:#ffd100"><circle cx="1618.3" cy="830" r="7.7"/><circle cx="1609" cy="1099.3" r="7.7"/><circle cx="1616.3" cy="1283" r="7.7"/><circle cx="1610" cy="1310" r="7.7"/><circle cx="1610.7" cy="1318.7" r="7.7"/><circle cx="1621.7" cy="1387.7" r="7.7"/><circle cx="1611" cy="1422.7" r="7.7"/><circle cx="1621.7" cy="1537.7" r="7.7"/><circle cx="1624" cy="1546" r="7.7"/><circle cx="1624.3" cy="1613.7" r="7.7"/><circle cx="1615" cy="1656.3" r="7.7"/><circle cx="1619.3" cy="1762.7" r="7.7"/><circle cx="1625" cy="1820.7" r="7.7"/><circle cx="1610" cy="1942" r="7.7"/><circle cx="1619.3" cy="1972.3" r="7.7"/><circle cx="1627" cy="2033" r="7.7"/><circle cx="1620.7" cy="2239.3" r="7.7"/><circle cx="1611" cy="2317.3" r="7.7"/></g>
<g style="color:#ffd000"><circle cx="1632.7" cy="1167" r="7.7"/><circle cx="1645.3" cy="1197" r="7.7"/><circle cx="1630" cy="1338.7" r="7.7"/><circle cx="1639.3" cy="1345.3" r="7.7"/><circle cx="1631.7" cy="1396" r="7.7"/><circle cx="1636.7" cy="1395.3" r="7.7"/><circle cx="1638.3" cy="1427" r="7.7"/><circle cx="1640.7" cy="1440" r="7.7"/><circle cx="1633.3" cy="1485.3" r="7.7"/><circle cx="1641.7" cy="1486" r="7.7"/><circle cx="1638.3" cy="1550" r="7.7"/><circle cx="1636" cy="1557.7" r="7.7"/><circle cx="1636.7" cy="1597.7" r="7.7"/><circle cx="1630" cy="1718.7" r="7.7"/><circle cx="1636.7" cy="1756" r="7.7"/><circle cx="1640" cy="1759.3" r="7.7"/><circle cx="1636.7" cy="1777.7" r="7.7"/><circle cx="1633.3" cy="1856" r="7.7"/><circle cx="1627.7" cy="1900.7" r="7.7"/></g>
<g style="color:#ffcf00"><circle cx="1659.7" cy="840" r="7.7"/><circle cx="1664" cy="951.7" r="7.7"/><circle cx="1664.3" cy="1131.3" r="7.7"/><circle cx="1652.3" cy="1241.3" r="7.7"/><circle cx="1650" cy="1250.7" r="7.7"/><circle cx="1662" cy="1260.7" r="7.7"/><circle cx="1665.7" cy="1334.7" r="7.7"/><circle cx="1655.3" cy="1377.7" r="7.7"/><circle cx="1661.7" cy="1427" r="7.7"/><circle cx="1665" cy="1472.7" r="7.7"/><circle cx="1651.7" cy="1487.7" r="7.7"/><circle cx="1658.3" cy="1492.7" r="7.7"/><circle cx="1650" cy="1515.3" r="7.7"/><circle cx="1658" cy="1563.7" r="7.7"/><circle cx="1648.3" cy="1612.7" r="7.7"/><circle cx="1647.7" cy="1752.7" r="7.7"/><circle cx="1651.7" cy="1845.3" r="7.7"/><circle cx="1660" cy="2054.3" r="7.7"/><circle cx="1663" cy="2385" r="7.7"/></g>
<g style="color:#ffce00"><circle cx="1676" cy="1067" r="7.7"/><circle cx="1680" cy="1077" r="7.7"/><circle cx="1685" cy="1198" r="7.7"/><circle cx="1678.7" cy="1276.7" r="7.7"/><circle cx="1673.3" cy="1396" r="7.7"/><circle cx="1671.7" cy="1431.7" r="7.7"/><circle cx="1678.3" cy="1526.7" r="7.7"/><circle cx="1683.3" cy="1531" r="7.7"/><circle cx="1671" cy="1608" r="7.7"/><circle cx="1666" cy="1624.3" r="7.7"/><circle cx="1671.7" cy="1645.3" r="7.7"/><circle cx="1669.3" cy="1666" r="7.7"/><circle cx="1666.7" cy="1678.7" r="7.7"/><circle cx="1683.3" cy="1686" r="7.7"/><circle cx="1670" cy="1711.7" r="7.7"/><circle cx="1670.7" cy="1742.7" r="7.7"/><circle cx="1678.3" cy="1812" r="7.7"/><circle cx="1669" cy="1887" r="7.7"/><circle cx="1668.3" cy="1937.7" r="7.7"/><circle cx="1675" cy="2424" r="7.7"/></g>
<g style="color:#ffcd00"><circle cx="1703.3" cy="105.7" r="7.7"/><circle cx="1687.7" cy="897.3" r="7.7"/><circle cx="1702.3" cy="1026.7" r="7.7"/><circle cx="1685.7" cy="1154" r="7.7"/><circle cx="1695" cy="1193" r="7.7"/><circle cx="1687.3" cy="1311.3" r="7.7"/><circle cx="1690.7" cy="1364.3" r="7.7"/><circle cx="1702.7" cy="1370" r="7.7"/><circle cx="1703.3" cy="1356.7" r="7.7"/><circle cx="1696" cy="1447.7" r="7.7"/><circle cx="1689.3" cy="1465.3" r="7.7"/><circle cx="1686.3" cy="1490.3" r="7.7"/><circle cx="1702.3" cy="1522" r="7.7"/><circle cx="1687.7" cy="1555.3" r="7.7"/><circle cx="1695.7" cy="1610.7" r="7.7"/><circle cx="1700" cy="1639.3" r="7.7"/><circle cx="1701.7" cy="1647.7" r="7.7"/><circle cx="1691.7" cy="1657" r="7.7"/><circle cx="1686" cy="1724.3" r="7.7"/><circle cx="1696.7" cy="1722.7" r="7.7"/><circle cx="1687.7" cy="1787.3" r="7.7"/><circle cx="1701.7" cy="1807.7" r="7.7"/><circle cx="1689.3" cy="2292" r="7.7"/></g>
<g style="color:#ffcc00"><circle cx="1709.3" cy="316.7" r="7.7"/><circle cx="1707.7" cy="1107.3" r="7.7"/><circle cx="1714" cy="1285.3" r="7.7"/><circle cx="1713.3" cy="1351" r="7.7"/><circle cx="1710" cy="1449.3" r="7.7"/><circle cx="1706" cy="1591.7" r="7.7"/><circle cx="1705" cy="1631" r="7.7"/><circle cx="1711.7" cy="1664.3" r="7.7"/><circle cx="1715" cy="1672.7" r="7.7"/><circle cx="1715" cy="1692.7" r="7.7"/><circle cx="1707.3" cy="1762.7" r="7.7"/><circle cx="1708.3" cy="1801" r="7.7"/><circle cx="1711.7" cy="1806" r="7.7"/><circle cx="1705" cy="1827.7" r="7.7"/><circle cx="1708.3" cy="1831" r="7.7"/><circle cx="1721.7" cy="854.7" r="7.7"/><circle cx="1724" cy="1046.3" r="7.7"/><circle cx="1722.7" cy="1179.7" r="7.7"/><circle cx="1720.7" cy="1187" r="7.7"/><circle cx="1721" cy="1969" r="7.7"/></g>
<g style="color:#ffcb00"><circle cx="1725" cy="943" r="7.7"/><circle cx="1742.7" cy="1069.3" r="7.7"/><circle cx="1724.2" cy="1352.3" r="7.7"/><circle cx="1737.2" cy="1350.7" r="7.7"/><circle cx="1731.7" cy="1458.5" r="7.7"/><circle cx="1736.7" cy="1461.8" r="7.7"/><circle cx="1743.3" cy="1464.8" r="7.7"/><circle cx="1726.3" cy="1518" r="7.7"/><circle cx="1741.2" cy="1524.7" r="7.7"/><circle cx="1740.8" cy="1596.8" r="7.7"/><circle cx="1730.8" cy="1618.5" r="7.7"/><circle cx="1740" cy="1720" r="7.7"/><circle cx="1731.3" cy="1754.2" r="7.7"/><circle cx="1743.3" cy="1775.5" r="7.7"/><circle cx="1735" cy="1786.7" r="7.7"/><circle cx="1740.5" cy="1818.3" r="7.7"/><circle cx="1740.3" cy="1920.8" r="7.7"/><circle cx="1726.7" cy="2079" r="7.7"/></g>
<g style="color:#ffca00"><circle cx="1749.7" cy="996.3" r="7.7"/><circle cx="1749" cy="1004" r="7.7"/><circle cx="1752" cy="1125.3" r="7.7"/><circle cx="1762.7" cy="1161" r="7.7"/><circle cx="1752.7" cy="1316" r="7.7"/><circle cx="1753.3" cy="1364.3" r="7.7"/><circle cx="1748.7" cy="1369" r="7.7"/><circle cx="1755.5" cy="1416.3" r="7.7"/><circle cx="1754.2" cy="1433.8" r="7.7"/><circle cx="1752.2" cy="1484" r="7.7"/><circle cx="1755.8" cy="1541.8" r="7.7"/><circle cx="1762.5" cy="1544.3" r="7.7"/><circle cx="1749.2" cy="1553.5" r="7.7"/><circle cx="1755.8" cy="1620.2" r="7.7"/><circle cx="1748.3" cy="1628" r="7.7"/><circle cx="1757.5" cy="1649.2" r="7.7"/><circle cx="1749.2" cy="1705.8" r="7.7"/><circle cx="1754.2" cy="1758.7" r="7.7"/><circle cx="1748.3" cy="1900" r="7.7"/><circle cx="1757.5" cy="1920" r="7.7"/><circle cx="1745.5" cy="1936.7" r="7.7"/><circle cx="1759.3" cy="1955.7" r="7.7"/><circle cx="1753.3" cy="1964" r="7.7"/><circle cx="1759.3" cy="2034" r="7.7"/></g>
<g style="color:#ffc900"><circle cx="1778.7" cy="1224" r="7.7"/><circle cx="1780.7" cy="1227.3" r="7.7"/><circle cx="1769.3" cy="1247.7" r="7.7"/><circle cx="1780" cy="1288.3" r="7.7"/><circle cx="1773.5" cy="1333" r="7.7"/><circle cx="1773.7" cy="1402.7" r="7.7"/><circle cx="1765.8" cy="1524.3" r="7.7"/><circle cx="1768.3" cy="1546.8" r="7.7"/><circle cx="1771.7" cy="1549.3" r="7.7"/><circle cx="1766.7" cy="1555.2" r="7.7"/><circle cx="1781.7" cy="1545.2" r="7.7"/><circle cx="1776.7" cy="1576" r="7.7"/><circle cx="1777.5" cy="1584.3" r="7.7"/><circle cx="1778.3" cy="1622.7" r="7.7"/><circle cx="1775.8" cy="1624.3" r="7.7"/><circle cx="1775.8" cy="1683.7" r="7.7"/><circle cx="1780.8" cy="1703" r="7.7"/><circle cx="1774.2" cy="1722" r="7.7"/><circle cx="1762.8" cy="1809.7" r="7.7"/><circle cx="1767" cy="1834.7" r="7.7"/><circle cx="1776.7" cy="1851.7" r="7.7"/><circle cx="1779.3" cy="2209.3" r="7.7"/><circle cx="1765" cy="2357" r="7.7"/></g>
<g style="color:#ffc800"><circle cx="1797" cy="215" r="7.7"/><circle cx="1795" cy="792.3" r="7.7"/><circle cx="1796" cy="1076.7" r="7.7"/><circle cx="1788.3" cy="1123" r="7.7"/><circle cx="1800" cy="1132.7" r="7.7"/><circle cx="1793.3" cy="1167" r="7.7"/><circle cx="1796.7" cy="1230.7" r="7.7"/><circle cx="1796" cy="1265.3" r="7.7"/><circle cx="1796.7" cy="1310.7" r="7.7"/><circle cx="1799.7" cy="1371.3" r="7.7"/><circle cx="1796.7" cy="1423.8" r="7.7"/><circle cx="1793" cy="1474.7" r="7.7"/><circle cx="1790" cy="1534.3" r="7.7"/><circle cx="1790" cy="1594.3" r="7.7"/><circle cx="1800" cy="1660.8" r="7.7"/><circle cx="1798.3" cy="1674.2" r="7.7"/><circle cx="1795" cy="1680.8" r="7.7"/><circle cx="1791.7" cy="1687.5" r="7.7"/><circle cx="1789.2" cy="1692.5" r="7.7"/><circle cx="1795.8" cy="1771.7" r="7.7"/><circle cx="1795.8" cy="1829.7" r="7.7"/><circle cx="1792" cy="1846.7" r="7.7"/><circle cx="1800.7" cy="1975" r="7.7"/><circle cx="1801" cy="2427" r="7.7"/></g>
<g style="color:#ffc700"><circle cx="1812.7" cy="819.7" r="7.7"/><circle cx="1802.7" cy="917" r="7.7"/><circle cx="1813.3" cy="922.7" r="7.7"/><circle cx="1803.3" cy="1108.7" r="7.7"/><circle cx="1810" cy="1113" r="7.7"/><circle cx="1819.3" cy="1245.3" r="7.7"/><circle cx="1815" cy="1289.7" r="7.7"/><circle cx="1808.3" cy="1298" r="7.7"/><circle cx="1810.7" cy="1307.3" r="7.7"/><circle cx="1817.8" cy="1318" r="7.7"/><circle cx="1811.7" cy="1460.2" r="7.7"/><circle cx="1815" cy="1486" r="7.7"/><circle cx="1809.2" cy="1523.5" r="7.7"/><circle cx="1810.8" cy="1557.7" r="7.7"/><circle cx="1805.8" cy="1593.5" r="7.7"/><circle cx="1810" cy="1604.3" r="7.7"/><circle cx="1803" cy="1637.8" r="7.7"/><circle cx="1819.7" cy="1639.7" r="7.7"/><circle cx="1802.5" cy="1667.5" r="7.7"/><circle cx="1802.8" cy="1705.3" r="7.7"/><circle cx="1819.7" cy="1738.8" r="7.7"/><circle cx="1806.7" cy="1759.2" r="7.7"/><circle cx="1808.3" cy="1761.3" r="7.7"/><circle cx="1806.2" cy="1804.2" r="7.7"/><circle cx="1820" cy="1820.5" r="7.7"/><circle cx="1818" cy="1867" r="7.7"/><circle cx="1816" cy="2067" r="7.7"/><circle cx="1816" cy="2121.7" r="7.7"/><circle cx="1809.3" cy="2524.7" r="7.7"/></g>
<g style="color:#ffc600"><circle cx="1839.3" cy="876.3" r="7.7"/><circle cx="1836.7" cy="879.7" r="7.7"/><circle cx="1837.3" cy="1005.3" r="7.7"/><circle cx="1830" cy="1155.7" r="7.7"/><circle cx="1838" cy="1215.7" r="7.7"/><circle cx="1831.3" cy="1247.7" r="7.7"/><circle cx="1821" cy="1284.7" r="7.7"/><circle cx="1834.3" cy="1345.7" r="7.7"/><circle cx="1840.2" cy="1366.3" r="7.7"/><circle cx="1825" cy="1381.8" r="7.7"/><circle cx="1823.8" cy="1432.2" r="7.7"/><circle cx="1830.8" cy="1441" r="7.7"/><circle cx="1836.7" cy="1442.7" r="7.7"/><circle cx="1835" cy="1446" r="7.7"/><circle cx="1830" cy="1485.7" r="7.7"/><circle cx="1830.8" cy="1502.7" r="7.7"/><circle cx="1835" cy="1503.5" r="7.7"/><circle cx="1838.3" cy="1556" r="7.7"/><circle cx="1823.7" cy="1642" r="7.7"/><circle cx="1830.8" cy="1645" r="7.7"/><circle cx="1829.2" cy="1663.3" r="7.7"/><circle cx="1839.2" cy="1665.8" r="7.7"/><circle cx="1832" cy="1759.7" r="7.7"/><circle cx="1834.5" cy="1780" r="7.7"/><circle cx="1830.3" cy="1854.2" r="7.7"/><circle cx="1829" cy="2003.7" r="7.7"/><circle cx="1837" cy="2035" r="7.7"/><circle cx="1824.7" cy="2103" r="7.7"/></g>
<g style="color:#ffc400"><circle cx="1851.7" cy="601" r="7.7"/><circle cx="1859.2" cy="1381.3" r="7.7"/><circle cx="1848.3" cy="1389.3" r="7.7"/><circle cx="1855.8" cy="1397.7" r="7.7"/><circle cx="1857.7" cy="1436.7" r="7.7"/><circle cx="1840.8" cy="1444.7" r="7.7"/><circle cx="1850.8" cy="1471.8" r="7.7"/><circle cx="1856.7" cy="1473.5" r="7.7"/><circle cx="1853.3" cy="1478.5" r="7.7"/><circle cx="1850.8" cy="1542.7" r="7.7"/><circle cx="1840.8" cy="1563.5" r="7.7"/><circle cx="1857.5" cy="1600.5" r="7.7"/><circle cx="1856.7" cy="1635" r="7.7"/><circle cx="1849.2" cy="1666.7" r="7.7"/><circle cx="1853.3" cy="1667" r="7.7"/><circle cx="1856.7" cy="1687.2" r="7.7"/><circle cx="1843.3" cy="1715.8" r="7.7"/><circle cx="1858.3" cy="1828.3" r="7.7"/><circle cx="1856.7" cy="1830.8" r="7.7"/><circle cx="1847.3" cy="2100" r="7.7"/><circle cx="1849.7" cy="2173.7" r="7.7"/></g>
<g style="color:#ffc300"><circle cx="1865.7" cy="958.3" r="7.7"/><circle cx="1874.7" cy="1194.3" r="7.7"/><circle cx="1860" cy="1235.3" r="7.7"/><circle cx="1860.3" cy="1382.7" r="7.7"/><circle cx="1869.2" cy="1399.3" r="7.7"/><circle cx="1867.8" cy="1457.3" r="7.7"/><circle cx="1861.7" cy="1476" r="7.7"/><circle cx="1862.5" cy="1523.5" r="7.7"/><circle cx="1873.3" cy="1532.3" r="7.7"/><circle cx="1867.5" cy="1546" r="7.7"/><circle cx="1873.7" cy="1584.3" r="7.7"/><circle cx="1875.8" cy="1600.2" r="7.7"/><circle cx="1873.3" cy="1621.5" r="7.7"/><circle cx="1876.7" cy="1685.8" r="7.7"/><circle cx="1863.3" cy="1710.3" r="7.7"/><circle cx="1865.5" cy="1727.5" r="7.7"/><circle cx="1877.5" cy="1752.8" r="7.7"/><circle cx="1860.8" cy="1829.2" r="7.7"/><circle cx="1872.5" cy="1846.2" r="7.7"/><circle cx="1860" cy="1850" r="7.7"/><circle cx="1875.3" cy="1902.5" r="7.7"/><circle cx="1862" cy="1917.8" r="7.7"/><circle cx="1869.3" cy="1953" r="7.7"/><circle cx="1872.7" cy="2000.7" r="7.7"/><circle cx="1876.7" cy="2129" r="7.7"/><circle cx="1873.3" cy="2134" r="7.7"/><circle cx="1867.7" cy="2163.7" r="7.7"/><circle cx="1871.3" cy="2184.7" r="7.7"/><circle cx="1867" cy="2792" r="7.7"/></g>
<g style="color:#ffc200"><circle cx="1890.7" cy="1308" r="7.7"/><circle cx="1894.7" cy="1309.7" r="7.7"/><circle cx="1890" cy="1419.3" r="7.7"/><circle cx="1895.8" cy="1426.8" r="7.7"/><circle cx="1890.7" cy="1474" r="7.7"/><circle cx="1898.3" cy="1481.8" r="7.7"/><circle cx="1893.7" cy="1514.3" r="7.7"/><circle cx="1895.8" cy="1526.8" r="7.7"/><circle cx="1896.7" cy="1529.3" r="7.7"/><circle cx="1880.8" cy="1680" r="7.7"/><circle cx="1880.8" cy="1775" r="7.7"/><circle cx="1883.3" cy="1778.3" r="7.7"/><circle cx="1893.7" cy="1810" r="7.7"/><circle cx="1892.5" cy="1856.2" r="7.7"/><circle cx="1881.7" cy="1943" r="7.7"/><circle cx="1887.3" cy="2169.3" r="7.7"/><circle cx="1890" cy="2245.7" r="7.7"/><circle cx="1892" cy="2339.7" r="7.7"/><circle cx="1886.3" cy="2542.3" r="7.7"/><circle cx="1885.5" cy="2624.5" r="7.7"/></g>
<g style="color:#ffc100"><circle cx="1898.7" cy="624" r="7.7"/><circle cx="1909.7" cy="1012.3" r="7.7"/><circle cx="1913" cy="1208.3" r="7.7"/><circle cx="1899.7" cy="1283" r="7.7"/><circle cx="1904.7" cy="1391.8" r="7.7"/><circle cx="1913.3" cy="1403" r="7.7"/><circle cx="1905.8" cy="1411.8" r="7.7"/><circle cx="1904.7" cy="1500.2" r="7.7"/><circle cx="1899.2" cy="1562.7" r="7.7"/><circle cx="1905.5" cy="1675" r="7.7"/><circle cx="1908.3" cy="1716.7" r="7.7"/><circle cx="1909.2" cy="1727.5" r="7.7"/><circle cx="1905.8" cy="1736.7" r="7.7"/><circle cx="1905.8" cy="1754.2" r="7.7"/><circle cx="1911.2" cy="1779.5" r="7.7"/><circle cx="1910.5" cy="1816.7" r="7.7"/><circle cx="1914.7" cy="1847.5" r="7.7"/><circle cx="1908" cy="1869.2" r="7.7"/><circle cx="1899.2" cy="1875.8" r="7.7"/><circle cx="1899.5" cy="1890.8" r="7.7"/><circle cx="1916" cy="2002.3" r="7.7"/><circle cx="1912" cy="2106.7" r="7.7"/><circle cx="1914.3" cy="2132.3" r="7.7"/><circle cx="1902.7" cy="2461.7" r="7.7"/></g>
<g style="color:#ffc000"><circle cx="1936" cy="1138.7" r="7.7"/><circle cx="1932.7" cy="1239.7" r="7.7"/><circle cx="1927.3" cy="1293" r="7.7"/><circle cx="1931.7" cy="1298" r="7.7"/><circle cx="1931" cy="1304.7" r="7.7"/><circle cx="1922.7" cy="1350.7" r="7.7"/><circle cx="1933" cy="1382.3" r="7.7"/><circle cx="1924.7" cy="1391.8" r="7.7"/><circle cx="1935.8" cy="1477.7" r="7.7"/><circle cx="1922.7" cy="1499" r="7.7"/><circle cx="1927.5" cy="1548" r="7.7"/><circle cx="1919.5" cy="1608.5" r="7.7"/><circle cx="1930" cy="1647.5" r="7.7"/><circle cx="1936.7" cy="1651.7" r="7.7"/><circle cx="1933.3" cy="1662.5" r="7.7"/><circle cx="1928.3" cy="1691.3" r="7.7"/><circle cx="1930.3" cy="1692" r="7.7"/><circle cx="1931.7" cy="1810" r="7.7"/><circle cx="1930.3" cy="1813.3" r="7.7"/><circle cx="1932" cy="1933.8" r="7.7"/><circle cx="1927.3" cy="2078" r="7.7"/><circle cx="1934" cy="2194.3" r="7.7"/><circle cx="1924.3" cy="2277.7" r="7.7"/><circle cx="1927.7" cy="2343.3" r="7.7"/></g>
<g style="color:#ffbf00"><circle cx="1937.3" cy="980" r="7.7"/><circle cx="1942" cy="1022.3" r="7.7"/><circle cx="1944.3" cy="1099.7" r="7.7"/><circle cx="1948.3" cy="1127.3" r="7.7"/><circle cx="1940" cy="1281.3" r="7.7"/><circle cx="1946.7" cy="1294" r="7.7"/><circle cx="1943" cy="1398" r="7.7"/><circle cx="1941" cy="1430.7" r="7.7"/><circle cx="1939.8" cy="1451" r="7.7"/><circle cx="1939.2" cy="1482.7" r="7.7"/><circle cx="1938" cy="1529.3" r="7.7"/><circle cx="1941.7" cy="1556.8" r="7.7"/><circle cx="1946.7" cy="1558.5" r="7.7"/><circle cx="1944.2" cy="1562.7" r="7.7"/><circle cx="1952.5" cy="1612.7" r="7.7"/><circle cx="1943.3" cy="1654.2" r="7.7"/><circle cx="1950.8" cy="1655" r="7.7"/><circle cx="1946.2" cy="1676.2" r="7.7"/><circle cx="1946.2" cy="1691.2" r="7.7"/><circle cx="1938" cy="1715.5" r="7.7"/><circle cx="1940" cy="1783.3" r="7.7"/><circle cx="1938.7" cy="1892.5" r="7.7"/><circle cx="1937.5" cy="1896.7" r="7.7"/><circle cx="1944" cy="2063.7" r="7.7"/><circle cx="1939.3" cy="2332" r="7.7"/></g>
<g style="color:#ffbe00"><circle cx="1964.7" cy="1025" r="7.7"/><circle cx="1961" cy="1067.7" r="7.7"/><circle cx="1971.7" cy="1215.7" r="7.7"/><circle cx="1957.3" cy="1477.7" r="7.7"/><circle cx="1965.8" cy="1491.8" r="7.7"/><circle cx="1972.5" cy="1494.3" r="7.7"/><circle cx="1969.2" cy="1499.3" r="7.7"/><circle cx="1964.3" cy="1517.7" r="7.7"/><circle cx="1959.2" cy="1567.7" r="7.7"/><circle cx="1970" cy="1624.3" r="7.7"/><circle cx="1957.5" cy="1658.3" r="7.7"/><circle cx="1961.2" cy="1677.2" r="7.7"/><circle cx="1961.7" cy="1702" r="7.7"/><circle cx="1970" cy="1761.2" r="7.7"/><circle cx="1956.7" cy="1789.7" r="7.7"/><circle cx="1972" cy="1870" r="7.7"/><circle cx="1972.5" cy="1879.2" r="7.7"/><circle cx="1957.8" cy="1911.2" r="7.7"/><circle cx="1969" cy="1964.7" r="7.7"/><circle cx="1961.7" cy="2010" r="7.7"/><circle cx="1965" cy="2014" r="7.7"/><circle cx="1967.3" cy="2106.3" r="7.7"/><circle cx="1959.3" cy="2116.3" r="7.7"/><circle cx="1971.7" cy="2116.3" r="7.7"/><circle cx="1956.7" cy="2284.7" r="7.7"/><circle cx="1969" cy="2292.3" r="7.7"/></g>
<g style="color:#ffbd00"><circle cx="1991.7" cy="633" r="7.7"/><circle cx="1983.7" cy="781.3" r="7.7"/><circle cx="1979" cy="1311.3" r="7.7"/><circle cx="1978.8" cy="1323.5" r="7.7"/><circle cx="1991.7" cy="1408.5" r="7.7"/><circle cx="1982.5" cy="1412.3" r="7.7"/><circle cx="1993.7" cy="1458.2" r="7.7"/><circle cx="1984.2" cy="1478.5" r="7.7"/><circle cx="1977.5" cy="1504.3" r="7.7"/><circle cx="1986.7" cy="1491" r="7.7"/><circle cx="1993.3" cy="1496.8" r="7.7"/><circle cx="1976.7" cy="1561.8" r="7.7"/><circle cx="1986.7" cy="1561.8" r="7.7"/><circle cx="1995" cy="1588.5" r="7.7"/><circle cx="1984.2" cy="1630.5" r="7.7"/><circle cx="1980.8" cy="1676.2" r="7.7"/><circle cx="1994.2" cy="1693.3" r="7.7"/><circle cx="1986.7" cy="1696.7" r="7.7"/><circle cx="1985" cy="1708.3" r="7.7"/><circle cx="1986.7" cy="1713.3" r="7.7"/><circle cx="1977.5" cy="1730" r="7.7"/><circle cx="1976.7" cy="1735.8" r="7.7"/><circle cx="1992.8" cy="1773" r="7.7"/><circle cx="1979.2" cy="1841.7" r="7.7"/><circle cx="1987.5" cy="1845" r="7.7"/><circle cx="1978.7" cy="1897.5" r="7.7"/><circle cx="1980.7" cy="1953" r="7.7"/><circle cx="1994" cy="1956.7" r="7.7"/><circle cx="1989.3" cy="2104" r="7.7"/><circle cx="1988.3" cy="2111.7" r="7.7"/><circle cx="1993.5" cy="2626.5" r="7.7"/><circle cx="1981" cy="2758.5" r="7.7"/></g>
<g style="color:#ffbc00"><circle cx="2007.3" cy="1042.7" r="7.7"/><circle cx="1998.3" cy="1183.3" r="7.7"/><circle cx="2012.7" cy="1198.3" r="7.7"/><circle cx="2008.3" cy="1281.3" r="7.7"/><circle cx="2014.3" cy="1336.2" r="7.7"/><circle cx="2012.2" cy="1441.3" r="7.7"/><circle cx="2003.8" cy="1514.3" r="7.7"/><circle cx="2003.3" cy="1537.7" r="7.7"/><circle cx="2009.2" cy="1543.5" r="7.7"/><circle cx="2010.8" cy="1545.2" r="7.7"/><circle cx="2005.8" cy="1556" r="7.7"/><circle cx="2014.2" cy="1565.2" r="7.7"/><circle cx="2003.3" cy="1590.2" r="7.7"/><circle cx="2005" cy="1593.5" r="7.7"/><circle cx="2001.7" cy="1614.3" r="7.7"/><circle cx="1996.2" cy="1654.2" r="7.7"/><circle cx="2012" cy="1659.7" r="7.7"/><circle cx="2009.7" cy="1699.2" r="7.7"/><circle cx="2013.3" cy="1767.5" r="7.7"/><circle cx="2003.8" cy="1804.7" r="7.7"/><circle cx="2011.2" cy="1915.8" r="7.7"/><circle cx="2011.7" cy="1938.3" r="7.7"/><circle cx="1996.7" cy="1996.7" r="7.7"/><circle cx="2003.3" cy="1999" r="7.7"/><circle cx="2001.7" cy="2036.3" r="7.7"/><circle cx="2011" cy="2314.7" r="7.7"/></g>
<g style="color:#ffbc00"><circle cx="2027.7" cy="1065" r="7.7"/><circle cx="2020.7" cy="1159" r="7.7"/><circle cx="2026" cy="1253" r="7.7"/><circle cx="2032.5" cy="1326.8" r="7.7"/><circle cx="2031.7" cy="1445.2" r="7.7"/><circle cx="2015.8" cy="1457.7" r="7.7"/><circle cx="2015" cy="1463.5" r="7.7"/><circle cx="2015.3" cy="1469.3" r="7.7"/><circle cx="2027.5" cy="1517.7" r="7.7"/><circle cx="2015.8" cy="1527.7" r="7.7"/><circle cx="2027.5" cy="1567.7" r="7.7"/><circle cx="2020.8" cy="1671.7" r="7.7"/><circle cx="2025" cy="1679.2" r="7.7"/><circle cx="2030" cy="1685" r="7.7"/><circle cx="2026.7" cy="1725" r="7.7"/><circle cx="2025.5" cy="1745" r="7.7"/><circle cx="2033.3" cy="1813" r="7.7"/><circle cx="2028.7" cy="1853.3" r="7.7"/><circle cx="2025" cy="1905" r="7.7"/><circle cx="2030.8" cy="1931.7" r="7.7"/><circle cx="2025" cy="1952.3" r="7.7"/><circle cx="2021" cy="2006" r="7.7"/></g>
<g style="color:#ffbb00"><circle cx="2040" cy="1039.3" r="7.7"/><circle cx="2039.7" cy="1406" r="7.7"/><circle cx="2035" cy="1440.2" r="7.7"/><circle cx="2037.5" cy="1476.8" r="7.7"/><circle cx="2038.3" cy="1564.3" r="7.7"/><circle cx="2038.7" cy="1614.3" r="7.7"/><circle cx="2052.5" cy="1535.2" r="7.7"/><circle cx="2036.7" cy="1688.3" r="7.7"/><circle cx="2036.7" cy="1703.3" r="7.7"/><circle cx="2035" cy="1710" r="7.7"/><circle cx="2040.8" cy="1771.3" r="7.7"/><circle cx="2040.8" cy="1827.5" r="7.7"/><circle cx="2035.8" cy="1881.7" r="7.7"/><circle cx="2037.5" cy="1883.7" r="7.7"/><circle cx="2036.7" cy="1905" r="7.7"/><circle cx="2053.3" cy="1631.3" r="7.7"/><circle cx="2045" cy="1732" r="7.7"/><circle cx="2052.5" cy="1740.8" r="7.7"/><circle cx="2047.5" cy="1870" r="7.7"/><circle cx="2040.7" cy="1958.3" r="7.7"/><circle cx="2049.3" cy="2010" r="7.7"/><circle cx="2045" cy="2188" r="7.7"/><circle cx="2042" cy="2429.3" r="7.7"/></g>
<g style="color:#ffba00"><circle cx="2060" cy="1497.3" r="7.7"/><circle cx="2061.7" cy="1501.8" r="7.7"/><circle cx="2062.5" cy="1506" r="7.7"/><circle cx="2062.5" cy="1531.3" r="7.7"/><circle cx="2068.3" cy="1530.2" r="7.7"/><circle cx="2071.7" cy="1531.8" r="7.7"/><circle cx="2059.2" cy="1589.3" r="7.7"/><circle cx="2060.8" cy="1591" r="7.7"/><circle cx="2064.2" cy="1632.5" r="7.7"/><circle cx="2070.8" cy="1645" r="7.7"/><circle cx="2064.5" cy="1706.2" r="7.7"/><circle cx="2072.2" cy="1733.7" r="7.7"/><circle cx="2067.8" cy="1770.8" r="7.7"/><circle cx="2060" cy="1876.7" r="7.7"/><circle cx="2055" cy="1883.3" r="7.7"/><circle cx="2065" cy="1917" r="7.7"/><circle cx="2068" cy="2109" r="7.7"/><circle cx="2064.3" cy="2164.3" r="7.7"/><circle cx="2054" cy="2273.7" r="7.7"/><circle cx="2054" cy="2400.7" r="7.7"/></g>
<g style="color:#ffb900"><circle cx="2083.7" cy="1082.3" r="7.7"/><circle cx="2078.7" cy="1244.3" r="7.7"/><circle cx="2080" cy="1311.3" r="7.7"/><circle cx="2085.8" cy="1453.5" r="7.7"/><circle cx="2089.7" cy="1516.8" r="7.7"/><circle cx="2082.8" cy="1560.5" r="7.7"/><circle cx="2087.2" cy="1592.3" r="7.7"/><circle cx="2079.2" cy="1692" r="7.7"/><circle cx="2089.7" cy="1748.3" r="7.7"/><circle cx="2089.2" cy="1780" r="7.7"/><circle cx="2091.3" cy="1843.8" r="7.7"/><circle cx="2084.5" cy="1860.5" r="7.7"/><circle cx="2080" cy="1886.7" r="7.7"/><circle cx="2075.8" cy="1904.2" r="7.7"/><circle cx="2092" cy="2012" r="7.7"/><circle cx="2091" cy="2048.3" r="7.7"/><circle cx="2073.3" cy="2088" r="7.7"/><circle cx="2091.3" cy="2108.7" r="7.7"/><circle cx="2088" cy="2790.5" r="7.7"/></g>
<g style="color:#ffb900"><circle cx="2105.8" cy="1409.3" r="7.7"/><circle cx="2098.3" cy="1442.7" r="7.7"/><circle cx="2095" cy="1445.2" r="7.7"/><circle cx="2094.2" cy="1463.5" r="7.7"/><circle cx="2095.8" cy="1466" r="7.7"/><circle cx="2111.3" cy="1531.3" r="7.7"/><circle cx="2104.2" cy="1547.7" r="7.7"/><circle cx="2110.5" cy="1559.8" r="7.7"/><circle cx="2109.7" cy="1603.5" r="7.7"/><circle cx="2098.3" cy="1641.3" r="7.7"/><circle cx="2110.3" cy="1655.3" r="7.7"/><circle cx="2103.3" cy="1680" r="7.7"/><circle cx="2092.5" cy="1729.7" r="7.7"/><circle cx="2096.7" cy="1734.2" r="7.7"/><circle cx="2106.7" cy="1745" r="7.7"/><circle cx="2109.2" cy="1746.7" r="7.7"/><circle cx="2096.7" cy="1772.5" r="7.7"/><circle cx="2092.5" cy="1775.8" r="7.7"/><circle cx="2100.3" cy="1868.3" r="7.7"/><circle cx="2095.7" cy="1973.3" r="7.7"/><circle cx="2109.3" cy="1972.3" r="7.7"/><circle cx="2093.3" cy="2313.3" r="7.7"/><circle cx="2096" cy="2704" r="7.7"/></g>
<g style="color:#ffb800"><circle cx="2117.7" cy="1065.7" r="7.7"/><circle cx="2121.3" cy="1411" r="7.7"/><circle cx="2113.3" cy="1516" r="7.7"/><circle cx="2127.5" cy="1562.7" r="7.7"/><circle cx="2125" cy="1606.8" r="7.7"/><circle cx="2121.7" cy="1614.3" r="7.7"/><circle cx="2118.3" cy="1617.7" r="7.7"/><circle cx="2128.3" cy="1638.3" r="7.7"/><circle cx="2125" cy="1672.5" r="7.7"/><circle cx="2113.7" cy="1722.5" r="7.7"/><circle cx="2119.2" cy="1775" r="7.7"/><circle cx="2125.8" cy="1810.8" r="7.7"/><circle cx="2119.5" cy="1839.5" r="7.7"/><circle cx="2115" cy="1938.3" r="7.7"/><circle cx="2126.7" cy="1940.3" r="7.7"/><circle cx="2120" cy="1979" r="7.7"/><circle cx="2114.3" cy="1998.3" r="7.7"/><circle cx="2124.3" cy="2229.7" r="7.7"/></g>
<g style="color:#ffb700"><circle cx="2141.7" cy="1220.7" r="7.7"/><circle cx="2132.2" cy="1328.5" r="7.7"/><circle cx="2143.7" cy="1366.8" r="7.7"/><circle cx="2141.7" cy="1371" r="7.7"/><circle cx="2140" cy="1374.3" r="7.7"/><circle cx="2131.7" cy="1383.5" r="7.7"/><circle cx="2133" cy="1402.3" r="7.7"/><circle cx="2144.2" cy="1425.2" r="7.7"/><circle cx="2133.7" cy="1475.5" r="7.7"/><circle cx="2143" cy="1521.5" r="7.7"/><circle cx="2135" cy="1555.2" r="7.7"/><circle cx="2145" cy="1570.7" r="7.7"/><circle cx="2133.3" cy="1579.7" r="7.7"/><circle cx="2145" cy="1621" r="7.7"/><circle cx="2141.7" cy="1624.3" r="7.7"/><circle cx="2134.2" cy="1635" r="7.7"/><circle cx="2148.3" cy="1658.3" r="7.7"/><circle cx="2140.5" cy="1707" r="7.7"/><circle cx="2148.3" cy="1740.3" r="7.7"/><circle cx="2133.8" cy="1749.2" r="7.7"/><circle cx="2143.3" cy="1762.8" r="7.7"/><circle cx="2147.8" cy="1856.7" r="7.7"/><circle cx="2138.8" cy="1882.5" r="7.7"/><circle cx="2138.3" cy="1972.7" r="7.7"/><circle cx="2134.7" cy="2043" r="7.7"/><circle cx="2136.7" cy="2229.7" r="7.7"/></g>
<g style="color:#ffb600"><circle cx="2152.7" cy="1206.3" r="7.7"/><circle cx="2166.3" cy="1268.3" r="7.7"/><circle cx="2150.7" cy="1281" r="7.7"/><circle cx="2168.7" cy="1310.7" r="7.7"/><circle cx="2154" cy="1334.7" r="7.7"/><circle cx="2153" cy="1441.8" r="7.7"/><circle cx="2163.3" cy="1490.7" r="7.7"/><circle cx="2163.8" cy="1506.5" r="7.7"/><circle cx="2165.3" cy="1546.8" r="7.7"/><circle cx="2161.7" cy="1592.7" r="7.7"/><circle cx="2153.3" cy="1626" r="7.7"/><circle cx="2159.2" cy="1651.7" r="7.7"/><circle cx="2165" cy="1666.7" r="7.7"/><circle cx="2167.5" cy="1671.7" r="7.7"/><circle cx="2160" cy="1674.2" r="7.7"/><circle cx="2164.7" cy="1736.7" r="7.7"/><circle cx="2165.8" cy="1757.5" r="7.7"/><circle cx="2162.8" cy="1842.8" r="7.7"/><circle cx="2169.2" cy="1858.3" r="7.7"/><circle cx="2166.7" cy="1888.8" r="7.7"/><circle cx="2155.3" cy="1912.2" r="7.7"/><circle cx="2166.5" cy="2607" r="7.7"/></g>
<g style="color:#ffb600"><circle cx="2178.3" cy="262" r="7.7"/><circle cx="2184" cy="1185" r="7.7"/><circle cx="2170.3" cy="1406" r="7.7"/><circle cx="2173" cy="1422.2" r="7.7"/><circle cx="2173.8" cy="1447.2" r="7.7"/><circle cx="2181.7" cy="1511.3" r="7.7"/><circle cx="2175.8" cy="1546" r="7.7"/><circle cx="2175" cy="1593.5" r="7.7"/><circle cx="2171.7" cy="1683.3" r="7.7"/><circle cx="2175" cy="1694.2" r="7.7"/><circle cx="2170" cy="1712.5" r="7.7"/><circle cx="2180.8" cy="1730" r="7.7"/><circle cx="2183.3" cy="1735.8" r="7.7"/><circle cx="2173.3" cy="1761.7" r="7.7"/><circle cx="2182.5" cy="1760.8" r="7.7"/><circle cx="2176.7" cy="1765.8" r="7.7"/><circle cx="2171.7" cy="1773.3" r="7.7"/><circle cx="2175.5" cy="1804.5" r="7.7"/><circle cx="2186.3" cy="1864.2" r="7.7"/><circle cx="2181.7" cy="1974" r="7.7"/><circle cx="2185" cy="1983.3" r="7.7"/><circle cx="2181.7" cy="2034" r="7.7"/><circle cx="2186.7" cy="2039" r="7.7"/><circle cx="2178.3" cy="2118" r="7.7"/><circle cx="2182.7" cy="2125" r="7.7"/><circle cx="2175" cy="2170" r="7.7"/><circle cx="2170" cy="2189.7" r="7.7"/></g>
<g style="color:#ffb500"><circle cx="2197.7" cy="1092.3" r="7.7"/><circle cx="2193.3" cy="1159" r="7.7"/><circle cx="2205" cy="1161.3" r="7.7"/><circle cx="2200.8" cy="1325.7" r="7.7"/><circle cx="2190.8" cy="1477.7" r="7.7"/><circle cx="2207" cy="1503.5" r="7.7"/><circle cx="2193" cy="1521" r="7.7"/><circle cx="2189.7" cy="1561.5" r="7.7"/><circle cx="2207.5" cy="1561.8" r="7.7"/><circle cx="2194.2" cy="1576" r="7.7"/><circle cx="2190" cy="1582.7" r="7.7"/><circle cx="2195" cy="1591" r="7.7"/><circle cx="2201.7" cy="1586" r="7.7"/><circle cx="2205" cy="1596" r="7.7"/><circle cx="2198.3" cy="1601" r="7.7"/><circle cx="2204.2" cy="1730.8" r="7.7"/><circle cx="2202.5" cy="1745" r="7.7"/><circle cx="2191.7" cy="1815.5" r="7.7"/><circle cx="2190.8" cy="1837.5" r="7.7"/><circle cx="2197.5" cy="1848.3" r="7.7"/><circle cx="2190.8" cy="1906.7" r="7.7"/><circle cx="2207.5" cy="1916.7" r="7.7"/><circle cx="2193.3" cy="1972.3" r="7.7"/><circle cx="2204.7" cy="2149" r="7.7"/><circle cx="2191.3" cy="2442.7" r="7.7"/><circle cx="2205.3" cy="2485" r="7.7"/></g>
<g style="color:#ffb400"><circle cx="2214" cy="1166" r="7.7"/><circle cx="2212.7" cy="1278.7" r="7.7"/><circle cx="2213.3" cy="1289.7" r="7.7"/><circle cx="2210.3" cy="1366.8" r="7.7"/><circle cx="2210.3" cy="1424.7" r="7.7"/><circle cx="2219.5" cy="1484.7" r="7.7"/><circle cx="2209.2" cy="1538.5" r="7.7"/><circle cx="2216.7" cy="1562.7" r="7.7"/><circle cx="2211.7" cy="1578.5" r="7.7"/><circle cx="2211.7" cy="1599.3" r="7.7"/><circle cx="2218.3" cy="1591" r="7.7"/><circle cx="2220" cy="1602.7" r="7.7"/><circle cx="2210" cy="1606" r="7.7"/><circle cx="2216.7" cy="1586" r="7.7"/><circle cx="2212.5" cy="1626" r="7.7"/><circle cx="2210.3" cy="1697" r="7.7"/><circle cx="2226.3" cy="1698" r="7.7"/><circle cx="2213.3" cy="1757.5" r="7.7"/><circle cx="2216.7" cy="1759.2" r="7.7"/><circle cx="2224.7" cy="1806.2" r="7.7"/><circle cx="2221.7" cy="1823.7" r="7.7"/><circle cx="2213.3" cy="1847.5" r="7.7"/><circle cx="2222.7" cy="2107.3" r="7.7"/><circle cx="2210" cy="2113" r="7.7"/><circle cx="2208.7" cy="2193.3" r="7.7"/><circle cx="2209.5" cy="2737" r="7.7"/></g>
<g style="color:#ffb400"><circle cx="2243.3" cy="594" r="7.7"/><circle cx="2240" cy="1160.3" r="7.7"/><circle cx="2241.7" cy="1319.3" r="7.7"/><circle cx="2228" cy="1389.7" r="7.7"/><circle cx="2233.3" cy="1420.2" r="7.7"/><circle cx="2235" cy="1422.7" r="7.7"/><circle cx="2244.2" cy="1436" r="7.7"/><circle cx="2227.8" cy="1450.2" r="7.7"/><circle cx="2238.7" cy="1535.5" r="7.7"/><circle cx="2235.8" cy="1552.7" r="7.7"/><circle cx="2236.7" cy="1557.7" r="7.7"/><circle cx="2238.3" cy="1566.8" r="7.7"/><circle cx="2239.2" cy="1590.7" r="7.7"/><circle cx="2245.8" cy="1620.2" r="7.7"/><circle cx="2229.2" cy="1634.2" r="7.7"/><circle cx="2243.3" cy="1637" r="7.7"/><circle cx="2238.8" cy="1668" r="7.7"/><circle cx="2245.5" cy="1691.2" r="7.7"/><circle cx="2237.5" cy="1716.3" r="7.7"/><circle cx="2229.7" cy="1758" r="7.7"/><circle cx="2242" cy="1789.7" r="7.7"/><circle cx="2240.8" cy="1893.3" r="7.7"/><circle cx="2229.5" cy="1934.7" r="7.7"/><circle cx="2245" cy="2043" r="7.7"/><circle cx="2232.7" cy="2116.7" r="7.7"/><circle cx="2241.3" cy="2395.3" r="7.7"/><circle cx="2236.7" cy="2528" r="7.7"/><circle cx="2238" cy="2963.5" r="7.7"/></g>
<g style="color:#ffb300"><circle cx="2261.3" cy="730.3" r="7.7"/><circle cx="2251" cy="1083" r="7.7"/><circle cx="2260.7" cy="1135.7" r="7.7"/><circle cx="2256.7" cy="1250" r="7.7"/><circle cx="2252.2" cy="1375.2" r="7.7"/><circle cx="2263.5" cy="1396.8" r="7.7"/><circle cx="2249.2" cy="1437.7" r="7.7"/><circle cx="2254.7" cy="1459.3" r="7.7"/><circle cx="2261.7" cy="1487.7" r="7.7"/><circle cx="2249.7" cy="1500.2" r="7.7"/><circle cx="2263.3" cy="1522.7" r="7.7"/><circle cx="2261.7" cy="1527.7" r="7.7"/><circle cx="2260" cy="1570.2" r="7.7"/><circle cx="2257.5" cy="1631.7" r="7.7"/><circle cx="2253" cy="1662.5" r="7.7"/><circle cx="2261.2" cy="1700" r="7.7"/><circle cx="2252.5" cy="1732.5" r="7.7"/><circle cx="2262.5" cy="1760" r="7.7"/><circle cx="2252.2" cy="1778.3" r="7.7"/><circle cx="2262.2" cy="1790" r="7.7"/><circle cx="2248.8" cy="1837.8" r="7.7"/><circle cx="2255.3" cy="1889.2" r="7.7"/><circle cx="2254" cy="2060.3" r="7.7"/><circle cx="2254.3" cy="2105.7" r="7.7"/><circle cx="2261.3" cy="2502.3" r="7.7"/></g>
<g style="color:#ffb200"><circle cx="2281" cy="467.7" r="7.7"/><circle cx="2281.3" cy="1439.3" r="7.7"/><circle cx="2284.2" cy="1463.5" r="7.7"/><circle cx="2285" cy="1467.7" r="7.7"/><circle cx="2275.5" cy="1505.7" r="7.7"/><circle cx="2278.3" cy="1531" r="7.7"/><circle cx="2266.7" cy="1537.7" r="7.7"/><circle cx="2270" cy="1549.3" r="7.7"/><circle cx="2278.3" cy="1566" r="7.7"/><circle cx="2285" cy="1565.2" r="7.7"/><circle cx="2276.7" cy="1581.8" r="7.7"/><circle cx="2280.8" cy="1617.3" r="7.7"/><circle cx="2274.2" cy="1655.3" r="7.7"/><circle cx="2277.5" cy="1683" r="7.7"/><circle cx="2283" cy="1722" r="7.7"/><circle cx="2284.2" cy="1749.2" r="7.7"/><circle cx="2269.2" cy="1765.8" r="7.7"/><circle cx="2275.8" cy="1766.7" r="7.7"/><circle cx="2271.2" cy="1851.7" r="7.7"/><circle cx="2274" cy="1955" r="7.7"/><circle cx="2270.7" cy="2021.3" r="7.7"/><circle cx="2277.7" cy="2077.7" r="7.7"/><circle cx="2268.3" cy="2108" r="7.7"/><circle cx="2282.7" cy="2205" r="7.7"/><circle cx="2272.7" cy="2304.7" r="7.7"/><circle cx="2269.3" cy="2525" r="7.7"/></g>
<g style="color:#ffb100"><circle cx="2295.3" cy="1227.7" r="7.7"/><circle cx="2289.2" cy="1454.3" r="7.7"/><circle cx="2286.7" cy="1478.5" r="7.7"/><circle cx="2292.8" cy="1512.7" r="7.7"/><circle cx="2288.8" cy="1552.7" r="7.7"/><circle cx="2293.3" cy="1570.2" r="7.7"/><circle cx="2289.2" cy="1639.7" r="7.7"/><circle cx="2290" cy="1679.2" r="7.7"/><circle cx="2289.7" cy="1693" r="7.7"/><circle cx="2301.2" cy="1828.3" r="7.7"/><circle cx="2287.8" cy="1837.8" r="7.7"/><circle cx="2293.3" cy="1949" r="7.7"/><circle cx="2286.7" cy="1985.7" r="7.7"/><circle cx="2297.3" cy="2005" r="7.7"/><circle cx="2300.7" cy="2157.3" r="7.7"/><circle cx="2304" cy="2168" r="7.7"/><circle cx="2292.7" cy="2230" r="7.7"/><circle cx="2287" cy="2316.3" r="7.7"/><circle cx="2296" cy="2486.3" r="7.7"/><circle cx="2291.7" cy="2516" r="7.7"/><circle cx="2286.5" cy="2817" r="7.7"/></g>
<g style="color:#ffb100"><circle cx="2312.7" cy="1059.3" r="7.7"/><circle cx="2310.7" cy="1355" r="7.7"/><circle cx="2305.8" cy="1525.2" r="7.7"/><circle cx="2323.8" cy="1529" r="7.7"/><circle cx="2317" cy="1541.8" r="7.7"/><circle cx="2306.3" cy="1566.5" r="7.7"/><circle cx="2310" cy="1630.8" r="7.7"/><circle cx="2320" cy="1640.8" r="7.7"/><circle cx="2305.8" cy="1716.3" r="7.7"/><circle cx="2307.8" cy="1791.2" r="7.7"/><circle cx="2311" cy="1958" r="7.7"/><circle cx="2310" cy="1987.3" r="7.7"/><circle cx="2315" cy="1985.7" r="7.7"/><circle cx="2313.3" cy="2154" r="7.7"/><circle cx="2308" cy="2217.3" r="7.7"/></g>
<g style="color:#ffb000"><circle cx="2330" cy="150.7" r="7.7"/><circle cx="2339.3" cy="243.7" r="7.7"/><circle cx="2330.3" cy="1140.7" r="7.7"/><circle cx="2325" cy="1644.2" r="7.7"/><circle cx="2328.3" cy="1646.7" r="7.7"/><circle cx="2340.8" cy="1660.8" r="7.7"/><circle cx="2328.3" cy="1679.5" r="7.7"/><circle cx="2337.5" cy="1685.8" r="7.7"/><circle cx="2341.2" cy="1862.8" r="7.7"/><circle cx="2326.7" cy="1904.2" r="7.7"/><circle cx="2335" cy="1935.8" r="7.7"/><circle cx="2332.7" cy="2010" r="7.7"/><circle cx="2331.3" cy="2079" r="7.7"/><circle cx="2328.7" cy="2176" r="7.7"/><circle cx="2331.3" cy="2229" r="7.7"/><circle cx="2327.5" cy="2773" r="7.7"/></g>
<g style="color:#ffaf00"><circle cx="2347.7" cy="582" r="7.7"/><circle cx="2354.7" cy="926" r="7.7"/><circle cx="2352.7" cy="1391.8" r="7.7"/><circle cx="2348.7" cy="1493.5" r="7.7"/><circle cx="2352.5" cy="1588.8" r="7.7"/><circle cx="2348.3" cy="1624.3" r="7.7"/><circle cx="2350" cy="1630" r="7.7"/><circle cx="2363.3" cy="1650.8" r="7.7"/><circle cx="2356.7" cy="1680.5" r="7.7"/><circle cx="2344.2" cy="1727" r="7.7"/><circle cx="2360.8" cy="1707.5" r="7.7"/><circle cx="2363.3" cy="1727.5" r="7.7"/><circle cx="2360.8" cy="1772.5" r="7.7"/><circle cx="2348.3" cy="1827.8" r="7.7"/><circle cx="2362.5" cy="1914.2" r="7.7"/><circle cx="2353.3" cy="1975" r="7.7"/><circle cx="2358.3" cy="2034" r="7.7"/><circle cx="2361.7" cy="2123" r="7.7"/><circle cx="2353.3" cy="2190" r="7.7"/><circle cx="2352" cy="2248" r="7.7"/><circle cx="2345" cy="2281.7" r="7.7"/><circle cx="2363.3" cy="2376.7" r="7.7"/></g>
<g style="color:#ffae00"><circle cx="2365" cy="1500.2" r="7.7"/><circle cx="2366.7" cy="1588.5" r="7.7"/><circle cx="2365" cy="1715" r="7.7"/><circle cx="2365" cy="1860" r="7.7"/><circle cx="2382.5" cy="664" r="7.7"/><circle cx="2373.3" cy="1511" r="7.7"/><circle cx="2372.7" cy="1586" r="7.7"/><circle cx="2376" cy="1624.7" r="7.7"/><circle cx="2374" cy="1659.3" r="7.7"/><circle cx="2374" cy="1685" r="7.7"/><circle cx="2372.7" cy="1711.7" r="7.7"/><circle cx="2376" cy="1728.3" r="7.7"/><circle cx="2373.3" cy="1740" r="7.7"/><circle cx="2372.7" cy="1760" r="7.7"/><circle cx="2378.3" cy="1817.3" r="7.7"/><circle cx="2376" cy="1886" r="7.7"/><circle cx="2378.3" cy="1944" r="7.7"/><circle cx="2374" cy="1990" r="7.7"/><circle cx="2371.7" cy="2036" r="7.7"/><circle cx="2371.7" cy="2080" r="7.7"/><circle cx="2376.7" cy="2148.3" r="7.7"/></g>
<g style="color:#ffae00"><circle cx="2392" cy="668" r="7.7"/><circle cx="2392.3" cy="1500" r="7.7"/><circle cx="2385" cy="1547" r="7.7"/><circle cx="2388.7" cy="1575.3" r="7.7"/><circle cx="2392.7" cy="1608.7" r="7.7"/><circle cx="2390" cy="1612" r="7.7"/><circle cx="2390" cy="1634" r="7.7"/><circle cx="2396" cy="1697.7" r="7.7"/><circle cx="2398.3" cy="1740" r="7.7"/><circle cx="2395" cy="1745" r="7.7"/><circle cx="2399" cy="1778" r="7.7"/><circle cx="2390" cy="1794" r="7.7"/><circle cx="2386.7" cy="1840.7" r="7.7"/><circle cx="2391.7" cy="1848.3" r="7.7"/><circle cx="2395" cy="1852.7" r="7.7"/><circle cx="2386.7" cy="1860" r="7.7"/><circle cx="2397.3" cy="1885" r="7.7"/><circle cx="2393.3" cy="1896.7" r="7.7"/><circle cx="2390" cy="1913.3" r="7.7"/><circle cx="2390" cy="1925" r="7.7"/><circle cx="2399.3" cy="1935" r="7.7"/><circle cx="2402" cy="2019.3" r="7.7"/><circle cx="2391.7" cy="2059.3" r="7.7"/><circle cx="2391.7" cy="2090.3" r="7.7"/><circle cx="2402" cy="2174" r="7.7"/><circle cx="2401.7" cy="2194" r="7.7"/><circle cx="2391.7" cy="2228.3" r="7.7"/><circle cx="2401.7" cy="2692.3" r="7.7"/></g>
<g style="color:#ffad00"><circle cx="2403.7" cy="1244.3" r="7.7"/><circle cx="2420" cy="1323.7" r="7.7"/><circle cx="2413.3" cy="1530.7" r="7.7"/><circle cx="2410" cy="1583" r="7.7"/><circle cx="2419" cy="1600.3" r="7.7"/><circle cx="2410" cy="1650.7" r="7.7"/><circle cx="2413.3" cy="1684" r="7.7"/><circle cx="2413.3" cy="1725.7" r="7.7"/><circle cx="2413.3" cy="1755" r="7.7"/><circle cx="2407.3" cy="1834" r="7.7"/><circle cx="2416.7" cy="1928.3" r="7.7"/><circle cx="2416.7" cy="1980" r="7.7"/><circle cx="2420.7" cy="1990" r="7.7"/><circle cx="2412.3" cy="2028.7" r="7.7"/><circle cx="2410.7" cy="2479.7" r="7.7"/><circle cx="2416" cy="2604.7" r="7.7"/></g>
<g style="color:#ffac00"><circle cx="2434" cy="375" r="7.7"/><circle cx="2435" cy="1334" r="7.7"/><circle cx="2422.3" cy="1503.3" r="7.7"/><circle cx="2427.3" cy="1532" r="7.7"/><circle cx="2425.3" cy="1556.3" r="7.7"/><circle cx="2440.7" cy="1566.7" r="7.7"/><circle cx="2431.3" cy="1606" r="7.7"/><circle cx="2425" cy="1650.7" r="7.7"/><circle cx="2424.3" cy="1664.3" r="7.7"/><circle cx="2434" cy="1728.3" r="7.7"/><circle cx="2430" cy="1736.7" r="7.7"/><circle cx="2427.3" cy="1752.3" r="7.7"/><circle cx="2424.3" cy="1793" r="7.7"/><circle cx="2438.3" cy="1821" r="7.7"/><circle cx="2425.7" cy="1888.3" r="7.7"/><circle cx="2423.3" cy="1898.3" r="7.7"/><circle cx="2434" cy="1954.3" r="7.7"/><circle cx="2421.7" cy="1960" r="7.7"/><circle cx="2436.7" cy="1976" r="7.7"/><circle cx="2436.7" cy="2028.3" r="7.7"/><circle cx="2436.7" cy="2038.3" r="7.7"/><circle cx="2437.7" cy="2045" r="7.7"/><circle cx="2426.7" cy="2206.7" r="7.7"/></g>
<g style="color:#ffac00"><circle cx="2446.7" cy="1184.7" r="7.7"/><circle cx="2447.7" cy="1513" r="7.7"/><circle cx="2444.3" cy="1539.3" r="7.7"/><circle cx="2449" cy="1740" r="7.7"/><circle cx="2456.7" cy="1739.3" r="7.7"/><circle cx="2444" cy="1798.3" r="7.7"/><circle cx="2441" cy="1845" r="7.7"/><circle cx="2451.7" cy="1860" r="7.7"/><circle cx="2451" cy="1913.3" r="7.7"/><circle cx="2442.7" cy="2111" r="7.7"/><circle cx="2443.3" cy="2310.7" r="7.7"/><circle cx="2444.3" cy="2572.7" r="7.7"/></g>
<g style="color:#ffab00"><circle cx="2474" cy="1480.3" r="7.7"/><circle cx="2470" cy="1527.3" r="7.7"/><circle cx="2474.3" cy="1573.7" r="7.7"/><circle cx="2471.7" cy="1619.7" r="7.7"/><circle cx="2471.7" cy="1649" r="7.7"/><circle cx="2461" cy="1662.3" r="7.7"/><circle cx="2463.7" cy="1798" r="7.7"/><circle cx="2470.7" cy="1915" r="7.7"/><circle cx="2475" cy="2031.3" r="7.7"/><circle cx="2461" cy="2049" r="7.7"/><circle cx="2479.3" cy="2080" r="7.7"/><circle cx="2466.7" cy="2093.3" r="7.7"/><circle cx="2462.7" cy="2845" r="7.7"/></g>
<g style="color:#ffaa00"><circle cx="2490.3" cy="1359.7" r="7.7"/><circle cx="2484.7" cy="1387.7" r="7.7"/><circle cx="2482" cy="1476.3" r="7.7"/><circle cx="2485.7" cy="1530.7" r="7.7"/><circle cx="2497.3" cy="1538.7" r="7.7"/><circle cx="2486" cy="1604" r="7.7"/><circle cx="2496" cy="1672.3" r="7.7"/><circle cx="2482.3" cy="1740" r="7.7"/><circle cx="2490" cy="1872.7" r="7.7"/><circle cx="2488.3" cy="1948.3" r="7.7"/><circle cx="2491.7" cy="1955" r="7.7"/><circle cx="2482.7" cy="1968.3" r="7.7"/><circle cx="2493.3" cy="2155.7" r="7.7"/><circle cx="2484" cy="2197.7" r="7.7"/><circle cx="2487.3" cy="2316.7" r="7.7"/></g>
<g style="color:#ffa900"><circle cx="2508" cy="1422" r="7.7"/><circle cx="2517.3" cy="1440.3" r="7.7"/><circle cx="2514" cy="1554.3" r="7.7"/><circle cx="2504" cy="1636.7" r="7.7"/><circle cx="2515" cy="1660" r="7.7"/><circle cx="2518.3" cy="1663.3" r="7.7"/><circle cx="2502.3" cy="1679.3" r="7.7"/><circle cx="2510" cy="1718.7" r="7.7"/><circle cx="2505" cy="1736.7" r="7.7"/><circle cx="2506" cy="1741.7" r="7.7"/><circle cx="2501.7" cy="1758.3" r="7.7"/><circle cx="2507.3" cy="1767.3" r="7.7"/><circle cx="2509.3" cy="1770" r="7.7"/><circle cx="2518.3" cy="1795.7" r="7.7"/><circle cx="2513.3" cy="1801.7" r="7.7"/><circle cx="2506.7" cy="1866.7" r="7.7"/><circle cx="2508.3" cy="2111.3" r="7.7"/><circle cx="2514" cy="2200.7" r="7.7"/><circle cx="2509.3" cy="2321.3" r="7.7"/><circle cx="2508.7" cy="2778.3" r="7.7"/></g>
<g style="color:#ffa900"><circle cx="2521" cy="1358.3" r="7.7"/><circle cx="2537" cy="1579.7" r="7.7"/><circle cx="2536" cy="1628" r="7.7"/><circle cx="2537" cy="1666" r="7.7"/><circle cx="2521.7" cy="1690.7" r="7.7"/><circle cx="2526" cy="1693.3" r="7.7"/><circle cx="2528.3" cy="1783.3" r="7.7"/><circle cx="2536.7" cy="1812.7" r="7.7"/><circle cx="2527.3" cy="1847.3" r="7.7"/><circle cx="2529.3" cy="1850" r="7.7"/><circle cx="2519" cy="1885.7" r="7.7"/><circle cx="2536.7" cy="1960" r="7.7"/><circle cx="2531.7" cy="2031" r="7.7"/><circle cx="2534.3" cy="2100" r="7.7"/></g>
<g style="color:#ffa800"><circle cx="2539.3" cy="1287" r="7.7"/><circle cx="2538.3" cy="1369.7" r="7.7"/><circle cx="2555" cy="1690.7" r="7.7"/><circle cx="2551.7" cy="1726" r="7.7"/><circle cx="2540.7" cy="1741" r="7.7"/><circle cx="2547.7" cy="1802.3" r="7.7"/><circle cx="2553.3" cy="1865.7" r="7.7"/><circle cx="2538.3" cy="1888.3" r="7.7"/><circle cx="2556" cy="1921.7" r="7.7"/><circle cx="2551.7" cy="1967.7" r="7.7"/><circle cx="2538.3" cy="1974.3" r="7.7"/><circle cx="2551.7" cy="2026.7" r="7.7"/><circle cx="2553.3" cy="2056.7" r="7.7"/><circle cx="2542.3" cy="2070.7" r="7.7"/><circle cx="2547.7" cy="2084" r="7.7"/><circle cx="2552.7" cy="2098.3" r="7.7"/><circle cx="2554.7" cy="2293" r="7.7"/><circle cx="2550" cy="2304.7" r="7.7"/><circle cx="2540.3" cy="2337" r="7.7"/><circle cx="2556.7" cy="2334" r="7.7"/><circle cx="2551" cy="2366.3" r="7.7"/></g>
<g style="color:#ffa700"><circle cx="2564.7" cy="1311" r="7.7"/><circle cx="2562" cy="1576" r="7.7"/><circle cx="2569" cy="1637.3" r="7.7"/><circle cx="2566" cy="1667.7" r="7.7"/><circle cx="2559" cy="1706.7" r="7.7"/><circle cx="2559.3" cy="1720.7" r="7.7"/><circle cx="2575" cy="1731.7" r="7.7"/><circle cx="2561" cy="1757" r="7.7"/><circle cx="2575" cy="1896.7" r="7.7"/><circle cx="2573.3" cy="1976.7" r="7.7"/><circle cx="2558.3" cy="2039" r="7.7"/><circle cx="2573.3" cy="2039.3" r="7.7"/><circle cx="2575.7" cy="2120.3" r="7.7"/><circle cx="2568.3" cy="2586.7" r="7.7"/></g>
<g style="color:#ffa600"><circle cx="2591.7" cy="1204" r="7.7"/><circle cx="2586.7" cy="1353.7" r="7.7"/><circle cx="2591.7" cy="1543.7" r="7.7"/><circle cx="2583.7" cy="1549.7" r="7.7"/><circle cx="2592.3" cy="1806" r="7.7"/><circle cx="2581.7" cy="1843.3" r="7.7"/><circle cx="2585" cy="1852.7" r="7.7"/><circle cx="2595.7" cy="1867.3" r="7.7"/><circle cx="2586.7" cy="1916.7" r="7.7"/><circle cx="2583.3" cy="2035" r="7.7"/><circle cx="2585" cy="2041.7" r="7.7"/></g>
<g style="color:#ffa600"><circle cx="2603.3" cy="1074.7" r="7.7"/><circle cx="2612.7" cy="1323.3" r="7.7"/><circle cx="2605.7" cy="1354" r="7.7"/><circle cx="2601.3" cy="1386.7" r="7.7"/><circle cx="2609.3" cy="1787.3" r="7.7"/><circle cx="2615" cy="1811.7" r="7.7"/><circle cx="2603.3" cy="1803.3" r="7.7"/><circle cx="2600" cy="2008.3" r="7.7"/><circle cx="2606" cy="2007.7" r="7.7"/><circle cx="2615" cy="2319.7" r="7.7"/></g>
<g style="color:#ffa500"><circle cx="2623.5" cy="938.5" r="7.7"/><circle cx="2618.3" cy="1320.3" r="7.7"/><circle cx="2628.3" cy="1626" r="7.7"/><circle cx="2619" cy="1672.3" r="7.7"/><circle cx="2629.3" cy="1730" r="7.7"/><circle cx="2625" cy="1802.7" r="7.7"/><circle cx="2623.3" cy="1815" r="7.7"/><circle cx="2631" cy="1868.3" r="7.7"/><circle cx="2620.7" cy="2255.7" r="7.7"/></g>
<g style="color:#ffa400"><circle cx="2652" cy="659.5" r="7.7"/><circle cx="2637.7" cy="1157.7" r="7.7"/><circle cx="2642.7" cy="1635" r="7.7"/><circle cx="2645.7" cy="1671.7" r="7.7"/><circle cx="2650" cy="1724.3" r="7.7"/><circle cx="2651.7" cy="1737.3" r="7.7"/><circle cx="2643.3" cy="1842.3" r="7.7"/><circle cx="2639" cy="1882.3" r="7.7"/><circle cx="2651.7" cy="1894" r="7.7"/><circle cx="2635" cy="1975.7" r="7.7"/><circle cx="2646.7" cy="1980" r="7.7"/><circle cx="2653" cy="2280.3" r="7.7"/></g>
<g style="color:#ffa400"><circle cx="2666.7" cy="1608" r="7.7"/><circle cx="2662" cy="1828" r="7.7"/><circle cx="2659.3" cy="2222.3" r="7.7"/><circle cx="2672.3" cy="2250.7" r="7.7"/><circle cx="2668.3" cy="2485.7" r="7.7"/><circle cx="2661.7" cy="2747" r="7.7"/></g>
<g style="color:#ffa300"><circle cx="2686.3" cy="1132.3" r="7.7"/><circle cx="2690.7" cy="1260.3" r="7.7"/><circle cx="2685.3" cy="1455.7" r="7.7"/><circle cx="2677.3" cy="1592.7" r="7.7"/><circle cx="2681" cy="1618" r="7.7"/><circle cx="2687.7" cy="1723.3" r="7.7"/><circle cx="2683.3" cy="1746" r="7.7"/><circle cx="2692.7" cy="1791" r="7.7"/><circle cx="2675" cy="1825" r="7.7"/><circle cx="2675.7" cy="1892.7" r="7.7"/><circle cx="2686.7" cy="2075.7" r="7.7"/><circle cx="2683.3" cy="2125.7" r="7.7"/><circle cx="2674" cy="2185.3" r="7.7"/><circle cx="2677.3" cy="2332" r="7.7"/><circle cx="2678.7" cy="2396.7" r="7.7"/></g>
<g style="color:#ffa200"><circle cx="2711" cy="1541" r="7.7"/><circle cx="2694.3" cy="1638.3" r="7.7"/><circle cx="2707.7" cy="1666" r="7.7"/><circle cx="2695" cy="1831.7" r="7.7"/><circle cx="2700" cy="1836.7" r="7.7"/><circle cx="2705" cy="1841.7" r="7.7"/><circle cx="2706.7" cy="1971.7" r="7.7"/><circle cx="2700" cy="2063.3" r="7.7"/><circle cx="2705" cy="2068.3" r="7.7"/></g>
<g style="color:#ffa100"><circle cx="2720" cy="1780" r="7.7"/><circle cx="2727.3" cy="1856.7" r="7.7"/><circle cx="2727.3" cy="1886.7" r="7.7"/><circle cx="2723.3" cy="1978.3" r="7.7"/><circle cx="2719.3" cy="2270.3" r="7.7"/><circle cx="2721.7" cy="2421" r="7.7"/><circle cx="2713" cy="2616.3" r="7.7"/></g>
<g style="color:#ffa100"><circle cx="2740" cy="1558.7" r="7.7"/><circle cx="2741" cy="1606.7" r="7.7"/><circle cx="2731.7" cy="1870.7" r="7.7"/><circle cx="2732" cy="1906" r="7.7"/><circle cx="2750" cy="1968.3" r="7.7"/><circle cx="2747.3" cy="2005.7" r="7.7"/><circle cx="2749.3" cy="2008.3" r="7.7"/><circle cx="2734" cy="2045" r="7.7"/><circle cx="2734" cy="2100" r="7.7"/><circle cx="2750" cy="2235" r="7.7"/></g>
<g style="color:#ffa000"><circle cx="2751" cy="1619.7" r="7.7"/><circle cx="2753.3" cy="1836" r="7.7"/><circle cx="2760" cy="1836" r="7.7"/><circle cx="2769" cy="1836.7" r="7.7"/><circle cx="2765.7" cy="1946" r="7.7"/><circle cx="2752.7" cy="2058.3" r="7.7"/><circle cx="2755" cy="2119.7" r="7.7"/><circle cx="2755" cy="2155.7" r="7.7"/><circle cx="2765.7" cy="2376.3" r="7.7"/></g>
<g style="color:#ff9f00"><circle cx="2780.3" cy="1582.7" r="7.7"/><circle cx="2788" cy="1882.3" r="7.7"/><circle cx="2771.7" cy="1934.7" r="7.7"/><circle cx="2775.7" cy="1972.3" r="7.7"/><circle cx="2778" cy="1975" r="7.7"/></g>
<g style="color:#ff9e00"><circle cx="2807.3" cy="1666.7" r="7.7"/><circle cx="2805.3" cy="1736.7" r="7.7"/><circle cx="2793" cy="1753.3" r="7.7"/><circle cx="2795" cy="2026" r="7.7"/><circle cx="2807.3" cy="2016.7" r="7.7"/><circle cx="2792" cy="2179" r="7.7"/><circle cx="2805.3" cy="2437.3" r="7.7"/><circle cx="2806.5" cy="3017.5" r="7.7"/></g>
<g style="color:#ff9d00"><circle cx="2815" cy="86" r="7.7"/><circle cx="2820" cy="1448.7" r="7.7"/><circle cx="2812.3" cy="1818.7" r="7.7"/><circle cx="2819.7" cy="1858.7" r="7.7"/><circle cx="2812.3" cy="2509.7" r="7.7"/></g>
<g style="color:#ff9d00"><circle cx="2847.3" cy="1721.7" r="7.7"/><circle cx="2840.7" cy="1871.7" r="7.7"/><circle cx="2838.3" cy="1941" r="7.7"/></g>
<g style="color:#ff9c00"><circle cx="2864.7" cy="1805.3" r="7.7"/><circle cx="2867" cy="1871.3" r="7.7"/><circle cx="2866.7" cy="2127.3" r="7.7"/><circle cx="2852.7" cy="2237.7" r="7.7"/><circle cx="2849.7" cy="2277.7" r="7.7"/><circle cx="2860.7" cy="2796" r="7.7"/></g>
<g style="color:#ff9b00"><circle cx="2883" cy="1377.7" r="7.7"/><circle cx="2879.3" cy="1947" r="7.7"/><circle cx="2884" cy="2021.7" r="7.7"/><circle cx="2874.7" cy="2162" r="7.7"/></g>
<g style="color:#fe9a00"><circle cx="2904.3" cy="2025.3" r="7.7"/><circle cx="2893.7" cy="2479.3" r="7.7"/></g>
<g style="color:#fe9900"><circle cx="2919.3" cy="1617.3" r="7.7"/><circle cx="2907.3" cy="1817.7" r="7.7"/><circle cx="2922" cy="2275.3" r="7.7"/></g>
<g style="color:#fe9800"><circle cx="2928.3" cy="1749" r="7.7"/><circle cx="2927" cy="1895.3" r="7.7"/><circle cx="2939.3" cy="2052" r="7.7"/><circle cx="2928.3" cy="2209" r="7.7"/><circle cx="2934" cy="2212.3" r="7.7"/></g>
<g style="color:#fe9800"><circle cx="2961.3" cy="1661" r="7.7"/><circle cx="2954" cy="2504.3" r="7.7"/></g>
<g style="color:#fe9700"><circle cx="2978.5" cy="811.5" r="7.7"/><circle cx="2973.3" cy="1525.3" r="7.7"/><circle cx="2964.3" cy="1800" r="7.7"/><circle cx="2973.3" cy="2065.3" r="7.7"/></g>
<g style="color:#fe9600"><circle cx="2990.3" cy="1767" r="7.7"/><circle cx="2996.7" cy="1993.3" r="7.7"/></g>
<g style="color:#fe9500"><circle cx="3011.7" cy="2040.7" r="7.7"/><circle cx="3009.3" cy="2050.7" r="7.7"/></g>
<g style="color:#fe9400"><circle cx="3024" cy="2065.5" r="7.7"/><circle cx="3035" cy="2166.5" r="7.7"/><circle cx="3028.5" cy="2275.5" r="7.7"/></g>
<g style="color:#fe9100"><circle cx="3100.5" cy="1726.5" r="7.7"/><circle cx="3116.5" cy="1922.5" r="7.7"/></g>
<g style="color:#fe9000"><circle cx="3129.5" cy="1013.5" r="7.7"/><circle cx="3133.5" cy="2797" r="7.7"/></g>
<g style="color:#fd8f00"><circle cx="3151.5" cy="1873.5" r="7.7"/><circle cx="3152" cy="2245" r="7.7"/></g>
<g style="color:#fd8f00"><circle cx="3171.5" cy="1899.5" r="7.7"/></g>
<g style="color:#fd8e00"><circle cx="3180" cy="2081" r="7.7"/></g>
<g style="color:#fd8a00"><circle cx="3282.5" cy="2134" r="7.7"/></g>
<g style="color:#fd8800"><circle cx="3329" cy="1799" r="7.7"/><circle cx="3323" cy="1814" r="7.7"/><circle cx="3314.5" cy="2544.5" r="7.7"/></g>
<g style="color:#fd8700"><circle cx="3339.5" cy="973" r="7.7"/></g>
<g style="color:#fd8600"><circle cx="3384.5" cy="1317.5" r="7.7"/></g>
</g>
<g stroke="#fff" stroke-width="12.5" fill="none" stroke-linecap="butt">
<path d="M435.7 70.5 V3156.6 H3541.8"/>
<path d="M429.4 3156.6 H435.7"/>
<path d="M435.7 3156.6 v28.3"/><path d="M952.3 3156.6 v28.3"/><path d="M1469.0 3156.6 v28.3"/><path d="M1985.6 3156.6 v28.3"/><path d="M2502.2 3156.6 v28.3"/><path d="M3018.9 3156.6 v28.3"/><path d="M3535.5 3156.6 v28.3"/><path d="M435.7 3156.6 h-28.3"/><path d="M435.7 2771.6 h-28.3"/><path d="M435.7 2386.6 h-28.3"/><path d="M435.7 2001.6 h-28.3"/><path d="M435.7 1616.6 h-28.3"/><path d="M435.7 1231.7 h-28.3"/><path d="M435.7 846.7 h-28.3"/><path d="M435.7 461.7 h-28.3"/><path d="M435.7 76.7 h-28.3"/>
</g>
<path d="M415.7 867.3 L3555.5 2366.0" stroke="#00ffff" stroke-width="17.5" clip-path="url(#ax)"/>
<g class="tk" font-size="79">
<rect x="386.7" y="3237.9" width="46" height="2.9" fill="#fff"/><text transform="translate(438.3,3261) scale(1,1)" text-anchor="start">3</text><rect x="903.3" y="3237.9" width="46" height="2.9" fill="#fff"/><text transform="translate(954.9,3261) scale(1,1)" text-anchor="start">2</text><rect x="1420.0" y="3237.9" width="46" height="2.9" fill="#fff"/><text transform="translate(1471.6,3261) scale(1,1)" text-anchor="start">1</text><text transform="translate(1982.2,3261) scale(1,1)" text-anchor="middle">0</text><text transform="translate(2498.8,3261) scale(1,1)" text-anchor="middle">1</text><text transform="translate(3015.5,3261) scale(1,1)" text-anchor="middle">2</text><text transform="translate(3532.1,3261) scale(1,1)" text-anchor="middle">3</text>
<text transform="translate(381.5,3181.9) scale(0.988,1)" text-anchor="end">1.00</text><rect x="188.3" y="3159.3" width="46.4" height="2.9" fill="#fff"/><text transform="translate(381.5,2796.9) scale(0.988,1)" text-anchor="end">0.75</text><rect x="188.3" y="2774.3" width="46.4" height="2.9" fill="#fff"/><text transform="translate(381.5,2411.9) scale(0.988,1)" text-anchor="end">0.50</text><rect x="188.3" y="2389.3" width="46.4" height="2.9" fill="#fff"/><text transform="translate(381.5,2026.9) scale(0.988,1)" text-anchor="end">0.25</text><rect x="188.3" y="2004.3" width="46.4" height="2.9" fill="#fff"/><text transform="translate(381.5,1641.9) scale(0.988,1)" text-anchor="end">0.00</text><text transform="translate(381.5,1257.0) scale(0.988,1)" text-anchor="end">0.25</text><text transform="translate(381.5,872.0) scale(0.988,1)" text-anchor="end">0.50</text><text transform="translate(381.5,487.0) scale(0.988,1)" text-anchor="end">0.75</text><text transform="translate(381.5,102.0) scale(0.988,1)" text-anchor="end">1.00</text>
</g>
<text class="it" transform="translate(1930.5,3391) scale(1.10,1)" font-size="123">x</text><text transform="translate(1996.5,3408.5) scale(0.90,1)" font-size="88.5">1</text>
<g transform="translate(136,1705.5) rotate(-90)"><text class="it" x="-1" y="0" font-size="133" textLength="113" lengthAdjust="spacingAndGlyphs">M</text><text class="it" x="114.5" y="20" font-size="93" textLength="64.2" lengthAdjust="spacingAndGlyphs">B</text></g>
<rect x="473.7" y="113.7" width="946.4" height="244.8" rx="9" ry="9" fill="#1a1a1a" fill-opacity="0.8" stroke="#cccccc" stroke-width="7"/>
<g class="p" style="color:#ffbd00"><circle cx="580" cy="181.4" r="7.7"/></g>
<path d="M495.7 286 H666.4" stroke="#00ffff" stroke-width="17.5"/>
<text class="sans" x="710.6" y="202" font-size="73.5" textLength="262" lengthAdjust="spacingAndGlyphs">DES-SN</text>
<text x="1002.3" y="202" font-size="75">(</text><text class="it" x="1034" y="202" font-size="75" textLength="59" lengthAdjust="spacingAndGlyphs">N</text><rect x="1125" y="174" width="51" height="2.8" fill="#fff"/><rect x="1125" y="189" width="51" height="2.8" fill="#fff"/><text x="1200" y="202" font-size="75" textLength="152.4" lengthAdjust="spacingAndGlyphs">1635</text><text x="1355.5" y="202" font-size="75">)</text>
<rect x="718.1" y="290.7" width="46.2" height="2.8" fill="#fff"/><text class="it" x="772" y="311.6" font-size="75" textLength="44.5" lengthAdjust="spacingAndGlyphs">α</text><circle cx="847.2" cy="292.9" r="4.6" fill="#fff"/><text class="it" x="877" y="311.6" font-size="75" textLength="37.5" lengthAdjust="spacingAndGlyphs">x</text><text x="919.5" y="324" font-size="51">1</text>
</svg>
</body></html>
